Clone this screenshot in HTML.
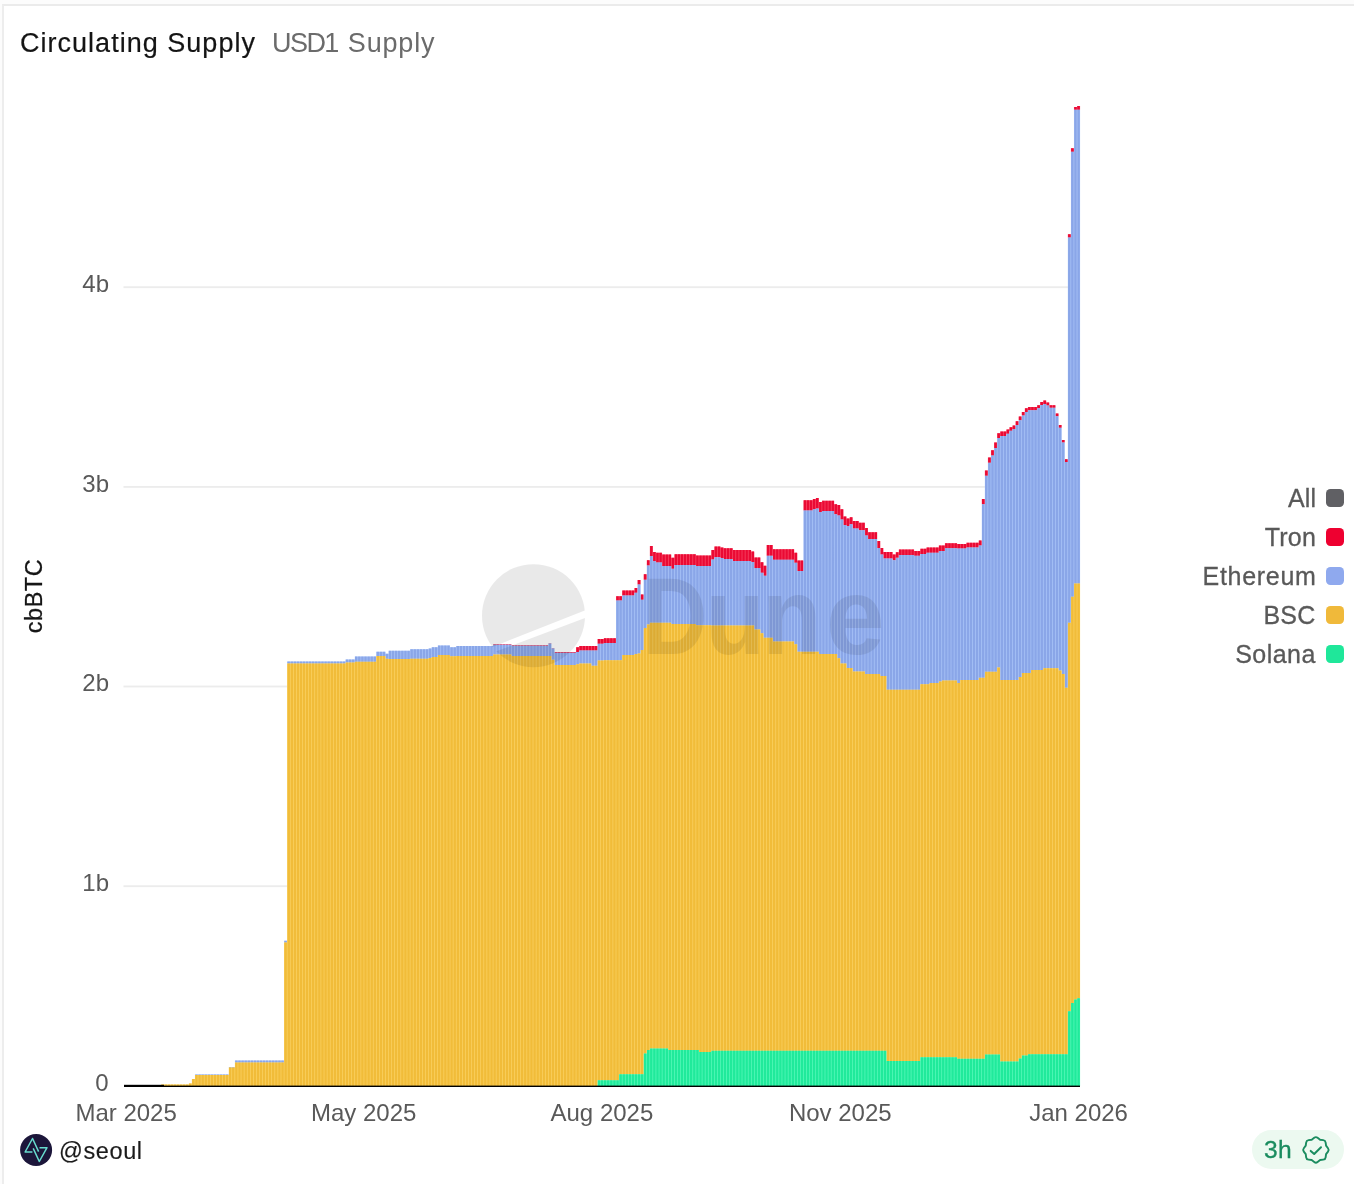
<!DOCTYPE html>
<html>
<head>
<meta charset="utf-8">
<title>Circulating Supply</title>
<style>
html,body{margin:0;padding:0;}
body{width:1354px;height:1184px;background:#fcfcfc;overflow:hidden;position:relative;font-family:"Liberation Sans",sans-serif;}
#card{position:absolute;left:2px;top:4px;width:1360px;height:1190px;background:#fff;border-left:2px solid #ededed;border-top:2px solid #ebebeb;box-sizing:border-box;}
.abs{position:absolute;white-space:nowrap;line-height:1;}
#t1{left:20px;top:29.7px;font-size:27px;color:#141414;letter-spacing:1.02px;-webkit-text-stroke:0.2px #141414;}
#t2{left:272px;top:29.5px;font-size:27px;color:#6b6b6b;letter-spacing:0px;}
svg{position:absolute;left:0;top:0;will-change:transform;}
.abs{will-change:transform;}
.ax{font-family:"Liberation Sans",sans-serif;font-size:24px;fill:#595959;}
.lg{font-family:"Liberation Sans",sans-serif;font-size:25px;fill:#595959;letter-spacing:0.2px;stroke:#595959;stroke-width:0.3px;}
#user{left:58.6px;top:1139.7px;font-size:23.5px;color:#1b1b1b;letter-spacing:0.6px;-webkit-text-stroke:0.15px #1b1b1b;}
#pill{position:absolute;left:1252px;top:1130px;width:92px;height:39px;border-radius:20px;background:#ecf9f0;}
#age{left:1263.8px;top:1138.3px;font-size:24.6px;color:#1a8c5f;-webkit-text-stroke:0.3px #1a8c5f;letter-spacing:0.3px;}
</style>
</head>
<body>
<div id="card"></div>
<div class="abs" id="t1">Circulating Supply</div>
<div class="abs" id="t2"><span style="letter-spacing:-1.55px">USD1</span><span style="letter-spacing:0.85px;margin-left:1.6px"> Supply</span></div>

<div id="pill"></div>
<svg width="1354" height="1184" viewBox="0 0 1354 1184">
  <!-- gridlines -->
  <g fill="#ececec">
    <rect x="123.5" y="286.3" width="956.5" height="1.8"/>
    <rect x="123.5" y="486.0" width="956.5" height="1.8"/>
    <rect x="123.5" y="685.6" width="956.5" height="1.8"/>
    <rect x="123.5" y="885.3" width="956.5" height="1.8"/>
  </g>
  <!-- bars -->
  <g shape-rendering="auto">
<path fill="#ff6a80" d="M493.06 644.3h3.07V644.7h-3.07zM496.13 644.3h3.07V644.7h-3.07zM499.21 644.3h3.07V644.7h-3.07zM502.28 644.3h3.07V644.7h-3.07zM505.36 644.3h3.07V644.7h-3.07zM508.43 644.3h3.07V644.7h-3.07zM511.50 645.3h3.07V645.7h-3.07zM514.58 645.3h3.07V645.7h-3.07zM517.65 645.3h3.07V645.7h-3.07zM520.72 645.3h3.07V645.7h-3.07zM523.80 645.3h3.07V645.7h-3.07zM526.87 645.3h3.07V645.7h-3.07zM529.94 645.3h3.07V645.7h-3.07zM533.02 645.3h3.07V645.7h-3.07zM536.09 645.3h3.07V645.7h-3.07zM539.16 645.3h3.07V645.7h-3.07zM542.24 645.3h3.07V645.7h-3.07zM545.31 645.3h3.07V645.7h-3.07zM548.38 643.2h3.07V643.6h-3.07zM551.46 648.2h3.07V648.6h-3.07zM554.53 652.0h3.07V652.7h-3.07zM557.60 652.0h3.07V652.7h-3.07zM560.68 652.0h3.07V652.7h-3.07zM563.75 652.0h3.07V652.7h-3.07zM566.83 652.0h3.07V652.7h-3.07zM569.90 652.0h3.07V652.7h-3.07zM572.97 652.0h3.07V652.7h-3.07zM576.05 647.2h3.07V651.9h-3.07zM579.12 646.0h3.07V650.6h-3.07zM582.19 646.0h3.07V650.6h-3.07zM585.27 646.0h3.07V650.6h-3.07zM588.34 646.0h3.07V650.6h-3.07zM591.41 646.0h3.07V650.6h-3.07zM594.49 646.0h3.07V650.6h-3.07zM597.56 639.1h3.07V643.8h-3.07zM600.63 639.1h3.07V643.8h-3.07zM603.71 638.2h3.07V643.0h-3.07zM606.78 638.2h3.07V643.0h-3.07zM609.85 638.2h3.07V643.0h-3.07zM612.93 638.2h3.07V643.0h-3.07zM616.00 596.2h3.07V600.4h-3.07zM619.07 596.2h3.07V600.4h-3.07zM622.15 590.5h3.07V595.6h-3.07zM625.22 590.5h3.07V595.6h-3.07zM628.30 590.5h3.07V595.6h-3.07zM631.37 590.5h3.07V595.6h-3.07zM634.44 587.9h3.07V592.7h-3.07zM637.52 579.9h3.07V584.6h-3.07zM640.59 594.4h3.07V599.8h-3.07zM643.66 574.3h3.07V579.7h-3.07zM646.74 560.2h3.07V565.5h-3.07zM649.81 546.0h3.07V556.0h-3.07zM652.88 551.9h3.07V561.3h-3.07zM655.96 552.7h3.07V562.5h-3.07zM659.03 552.7h3.07V562.5h-3.07zM662.10 554.6h3.07V566.1h-3.07zM665.18 554.6h3.07V566.1h-3.07zM668.25 554.6h3.07V566.1h-3.07zM671.32 557.8h3.07V568.8h-3.07zM674.40 554.2h3.07V564.9h-3.07zM677.47 554.2h3.07V564.9h-3.07zM680.54 554.2h3.07V564.9h-3.07zM683.62 554.2h3.07V564.9h-3.07zM686.69 554.2h3.07V564.9h-3.07zM689.77 554.2h3.07V564.9h-3.07zM692.84 554.2h3.07V564.9h-3.07zM695.91 555.4h3.07V566.1h-3.07zM698.99 555.4h3.07V566.1h-3.07zM702.06 555.4h3.07V566.1h-3.07zM705.13 555.4h3.07V566.1h-3.07zM708.21 555.4h3.07V566.1h-3.07zM711.28 549.9h3.07V559.6h-3.07zM714.35 546.6h3.07V557.2h-3.07zM717.43 546.6h3.07V557.2h-3.07zM720.50 547.5h3.07V558.1h-3.07zM723.57 548.3h3.07V559.0h-3.07zM726.65 548.3h3.07V559.0h-3.07zM729.72 548.3h3.07V559.0h-3.07zM732.79 550.1h3.07V561.0h-3.07zM735.87 550.1h3.07V561.0h-3.07zM738.94 550.1h3.07V561.0h-3.07zM742.01 550.1h3.07V561.0h-3.07zM745.09 550.1h3.07V561.0h-3.07zM748.16 550.1h3.07V561.0h-3.07zM751.24 551.5h3.07V561.9h-3.07zM754.31 557.4h3.07V568.0h-3.07zM757.38 557.4h3.07V568.0h-3.07zM760.46 562.2h3.07V572.8h-3.07zM763.53 565.7h3.07V575.8h-3.07zM766.60 545.0h3.07V555.7h-3.07zM769.68 545.0h3.07V555.7h-3.07zM772.75 549.2h3.07V559.8h-3.07zM775.82 549.2h3.07V559.8h-3.07zM778.90 549.2h3.07V559.8h-3.07zM781.97 549.2h3.07V559.8h-3.07zM785.04 549.2h3.07V559.8h-3.07zM788.12 549.2h3.07V559.8h-3.07zM791.19 549.2h3.07V559.8h-3.07zM794.26 552.7h3.07V562.8h-3.07zM797.34 560.6h3.07V571.0h-3.07zM800.41 560.6h3.07V571.0h-3.07zM803.48 500.3h3.07V510.5h-3.07zM806.56 500.3h3.07V510.5h-3.07zM809.63 500.3h3.07V510.5h-3.07zM812.71 498.9h3.07V509.3h-3.07zM815.78 498.0h3.07V508.4h-3.07zM818.85 501.9h3.07V511.9h-3.07zM821.93 500.7h3.07V511.0h-3.07zM825.00 500.7h3.07V511.0h-3.07zM828.07 500.7h3.07V511.0h-3.07zM831.15 500.7h3.07V511.0h-3.07zM834.22 504.2h3.07V514.3h-3.07zM837.29 505.1h3.07V515.5h-3.07zM840.37 509.3h3.07V519.6h-3.07zM843.44 516.4h3.07V524.9h-3.07zM846.51 518.4h3.07V525.9h-3.07zM849.59 517.2h3.07V524.3h-3.07zM852.66 521.1h3.07V528.5h-3.07zM855.73 521.1h3.07V528.5h-3.07zM858.81 522.8h3.07V530.3h-3.07zM861.88 522.8h3.07V530.3h-3.07zM864.95 527.9h3.07V535.6h-3.07zM868.03 532.3h3.07V539.1h-3.07zM871.10 532.3h3.07V539.1h-3.07zM874.18 532.3h3.07V539.1h-3.07zM877.25 540.9h3.07V548.0h-3.07zM880.32 548.0h3.07V554.5h-3.07zM883.40 551.9h3.07V558.4h-3.07zM886.47 551.9h3.07V558.4h-3.07zM889.54 551.9h3.07V558.4h-3.07zM892.62 554.5h3.07V560.3h-3.07zM895.69 552.3h3.07V557.8h-3.07zM898.76 549.5h3.07V554.9h-3.07zM901.84 549.5h3.07V554.9h-3.07zM904.91 549.5h3.07V554.9h-3.07zM907.98 549.5h3.07V554.9h-3.07zM911.06 549.5h3.07V554.9h-3.07zM914.13 550.9h3.07V555.7h-3.07zM917.20 550.9h3.07V555.7h-3.07zM920.28 548.8h3.07V553.9h-3.07zM923.35 548.8h3.07V553.9h-3.07zM926.42 547.6h3.07V552.7h-3.07zM929.50 547.6h3.07V552.7h-3.07zM932.57 547.6h3.07V552.7h-3.07zM935.65 547.6h3.07V552.7h-3.07zM938.72 545.6h3.07V550.9h-3.07zM941.79 545.6h3.07V550.9h-3.07zM944.87 543.3h3.07V548.3h-3.07zM947.94 543.3h3.07V548.3h-3.07zM951.01 543.3h3.07V548.3h-3.07zM954.09 543.3h3.07V548.3h-3.07zM957.16 543.9h3.07V548.6h-3.07zM960.23 543.9h3.07V548.6h-3.07zM963.31 543.9h3.07V548.6h-3.07zM966.38 542.7h3.07V547.4h-3.07zM969.45 542.7h3.07V547.4h-3.07zM972.53 542.7h3.07V547.4h-3.07zM975.60 542.7h3.07V547.4h-3.07zM978.67 540.5h3.07V545.6h-3.07zM981.75 498.9h3.07V504.2h-3.07zM984.82 470.4h3.07V475.7h-3.07zM987.89 457.4h3.07V462.7h-3.07zM990.97 450.3h3.07V455.6h-3.07zM994.04 442.6h3.07V447.9h-3.07zM997.12 433.2h3.07V437.9h-3.07zM1000.19 431.4h3.07V435.9h-3.07zM1003.26 431.4h3.07V435.9h-3.07zM1006.34 429.6h3.07V433.8h-3.07zM1009.41 427.2h3.07V430.8h-3.07zM1012.48 425.5h3.07V429.0h-3.07zM1015.56 421.3h3.07V424.9h-3.07zM1018.63 416.6h3.07V420.2h-3.07zM1021.70 411.9h3.07V415.4h-3.07zM1024.78 408.3h3.07V411.9h-3.07zM1027.85 407.1h3.07V410.3h-3.07zM1030.92 407.1h3.07V410.3h-3.07zM1034.00 407.1h3.07V410.3h-3.07zM1037.07 405.3h3.07V408.3h-3.07zM1040.14 402.1h3.07V405.0h-3.07zM1043.22 400.6h3.07V403.9h-3.07zM1046.29 402.4h3.07V405.4h-3.07zM1049.36 405.3h3.07V407.7h-3.07zM1052.44 405.3h3.07V407.7h-3.07zM1055.51 413.4h3.07V416.3h-3.07zM1058.59 424.9h3.07V427.8h-3.07zM1061.66 440.0h3.07V442.6h-3.07zM1064.73 459.2h3.07V462.0h-3.07zM1067.81 234.3h3.07V237.5h-3.07zM1070.88 148.2h3.07V151.8h-3.07zM1073.95 106.9h3.07V109.8h-3.07zM1077.03 106.0h3.07V109.8h-3.07z"/>
<path fill="#b8d2ff" d="M194.93 1074.5h3.07V1075.0h-3.07zM198.01 1074.5h3.07V1075.0h-3.07zM201.08 1074.5h3.07V1075.0h-3.07zM204.15 1074.5h3.07V1075.0h-3.07zM207.23 1074.5h3.07V1075.0h-3.07zM210.30 1074.5h3.07V1075.0h-3.07zM213.37 1074.5h3.07V1075.0h-3.07zM216.45 1074.5h3.07V1075.0h-3.07zM219.52 1074.5h3.07V1075.0h-3.07zM222.59 1074.5h3.07V1075.0h-3.07zM225.67 1074.5h3.07V1075.0h-3.07zM228.74 1067.0h3.07V1067.6h-3.07zM231.81 1067.0h3.07V1067.6h-3.07zM234.89 1060.5h3.07V1062.5h-3.07zM237.96 1060.5h3.07V1062.5h-3.07zM241.03 1060.5h3.07V1062.5h-3.07zM244.11 1060.5h3.07V1062.5h-3.07zM247.18 1060.5h3.07V1062.5h-3.07zM250.25 1060.5h3.07V1062.5h-3.07zM253.33 1060.5h3.07V1062.5h-3.07zM256.40 1060.5h3.07V1062.5h-3.07zM259.48 1060.5h3.07V1062.5h-3.07zM262.55 1060.5h3.07V1062.5h-3.07zM265.62 1060.5h3.07V1062.5h-3.07zM268.70 1060.5h3.07V1062.5h-3.07zM271.77 1060.5h3.07V1062.5h-3.07zM274.84 1060.5h3.07V1062.5h-3.07zM277.92 1060.5h3.07V1062.5h-3.07zM280.99 1060.5h3.07V1062.5h-3.07zM284.06 940.8h3.07V942.6h-3.07zM287.14 661.4h3.07V663.6h-3.07zM290.21 661.4h3.07V663.6h-3.07zM293.28 661.4h3.07V663.6h-3.07zM296.36 661.4h3.07V663.6h-3.07zM299.43 661.4h3.07V663.6h-3.07zM302.50 661.4h3.07V663.6h-3.07zM305.58 661.4h3.07V663.6h-3.07zM308.65 661.4h3.07V663.6h-3.07zM311.72 661.4h3.07V663.6h-3.07zM314.80 661.4h3.07V663.6h-3.07zM317.87 661.4h3.07V663.6h-3.07zM320.95 661.4h3.07V663.6h-3.07zM324.02 661.4h3.07V663.6h-3.07zM327.09 661.4h3.07V663.6h-3.07zM330.17 661.4h3.07V663.6h-3.07zM333.24 661.4h3.07V663.6h-3.07zM336.31 661.4h3.07V663.6h-3.07zM339.39 661.4h3.07V663.6h-3.07zM342.46 661.4h3.07V663.6h-3.07zM345.53 659.6h3.07V662.5h-3.07zM348.61 659.6h3.07V662.5h-3.07zM351.68 659.6h3.07V662.5h-3.07zM354.75 656.6h3.07V661.8h-3.07zM357.83 656.6h3.07V661.8h-3.07zM360.90 656.6h3.07V661.8h-3.07zM363.97 656.6h3.07V661.8h-3.07zM367.05 656.6h3.07V661.8h-3.07zM370.12 656.6h3.07V661.8h-3.07zM373.19 656.6h3.07V661.8h-3.07zM376.27 651.8h3.07V655.9h-3.07zM379.34 651.8h3.07V655.9h-3.07zM382.42 651.8h3.07V655.9h-3.07zM385.49 653.7h3.07V658.7h-3.07zM388.56 650.7h3.07V659.1h-3.07zM391.64 650.7h3.07V659.1h-3.07zM394.71 650.7h3.07V659.1h-3.07zM397.78 650.7h3.07V659.1h-3.07zM400.86 650.7h3.07V659.1h-3.07zM403.93 650.7h3.07V659.1h-3.07zM407.00 650.7h3.07V659.1h-3.07zM410.08 649.2h3.07V658.7h-3.07zM413.15 649.2h3.07V658.7h-3.07zM416.22 649.2h3.07V658.7h-3.07zM419.30 649.2h3.07V658.7h-3.07zM422.37 649.2h3.07V658.7h-3.07zM425.44 649.2h3.07V658.7h-3.07zM428.52 648.4h3.07V658.0h-3.07zM431.59 647.3h3.07V656.9h-3.07zM434.66 647.3h3.07V656.9h-3.07zM437.74 645.4h3.07V655.0h-3.07zM440.81 645.4h3.07V655.0h-3.07zM443.89 645.4h3.07V655.0h-3.07zM446.96 645.4h3.07V655.0h-3.07zM450.03 647.3h3.07V656.2h-3.07zM453.11 647.3h3.07V656.2h-3.07zM456.18 646.0h3.07V656.0h-3.07zM459.25 646.0h3.07V656.0h-3.07zM462.33 646.0h3.07V656.0h-3.07zM465.40 646.0h3.07V656.0h-3.07zM468.47 646.0h3.07V656.0h-3.07zM471.55 646.0h3.07V656.0h-3.07zM474.62 646.0h3.07V656.0h-3.07zM477.69 646.0h3.07V656.0h-3.07zM480.77 646.0h3.07V656.0h-3.07zM483.84 646.0h3.07V656.0h-3.07zM486.91 646.0h3.07V656.0h-3.07zM489.99 646.0h3.07V656.0h-3.07zM493.06 644.7h3.07V654.6h-3.07zM496.13 644.7h3.07V654.6h-3.07zM499.21 644.7h3.07V654.6h-3.07zM502.28 644.7h3.07V654.6h-3.07zM505.36 644.7h3.07V654.6h-3.07zM508.43 644.7h3.07V654.6h-3.07zM511.50 645.7h3.07V656.1h-3.07zM514.58 645.7h3.07V656.1h-3.07zM517.65 645.7h3.07V656.1h-3.07zM520.72 645.7h3.07V656.1h-3.07zM523.80 645.7h3.07V656.1h-3.07zM526.87 645.7h3.07V656.1h-3.07zM529.94 645.7h3.07V656.1h-3.07zM533.02 645.7h3.07V656.1h-3.07zM536.09 645.7h3.07V656.1h-3.07zM539.16 645.7h3.07V656.1h-3.07zM542.24 645.7h3.07V656.1h-3.07zM545.31 645.7h3.07V656.1h-3.07zM548.38 643.6h3.07V656.1h-3.07zM551.46 648.6h3.07V659.8h-3.07zM554.53 652.7h3.07V664.9h-3.07zM557.60 652.7h3.07V664.9h-3.07zM560.68 652.7h3.07V664.9h-3.07zM563.75 652.7h3.07V664.9h-3.07zM566.83 652.7h3.07V664.9h-3.07zM569.90 652.7h3.07V664.9h-3.07zM572.97 652.7h3.07V664.9h-3.07zM576.05 651.9h3.07V664.2h-3.07zM579.12 650.6h3.07V663.5h-3.07zM582.19 650.6h3.07V663.5h-3.07zM585.27 650.6h3.07V663.5h-3.07zM588.34 650.6h3.07V663.5h-3.07zM591.41 650.6h3.07V665.7h-3.07zM594.49 650.6h3.07V665.7h-3.07zM597.56 643.8h3.07V660.5h-3.07zM600.63 643.8h3.07V660.5h-3.07zM603.71 643.0h3.07V660.2h-3.07zM606.78 643.0h3.07V660.2h-3.07zM609.85 643.0h3.07V660.2h-3.07zM612.93 643.0h3.07V660.2h-3.07zM616.00 600.4h3.07V660.2h-3.07zM619.07 600.4h3.07V660.2h-3.07zM622.15 595.6h3.07V655.0h-3.07zM625.22 595.6h3.07V655.0h-3.07zM628.30 595.6h3.07V655.0h-3.07zM631.37 595.6h3.07V655.0h-3.07zM634.44 592.7h3.07V654.0h-3.07zM637.52 584.6h3.07V653.6h-3.07zM640.59 599.8h3.07V650.0h-3.07zM643.66 579.7h3.07V628.1h-3.07zM646.74 565.5h3.07V624.6h-3.07zM649.81 556.0h3.07V622.8h-3.07zM652.88 561.3h3.07V622.8h-3.07zM655.96 562.5h3.07V622.8h-3.07zM659.03 562.5h3.07V622.8h-3.07zM662.10 566.1h3.07V622.8h-3.07zM665.18 566.1h3.07V622.8h-3.07zM668.25 566.1h3.07V622.8h-3.07zM671.32 568.8h3.07V624.0h-3.07zM674.40 564.9h3.07V624.0h-3.07zM677.47 564.9h3.07V624.0h-3.07zM680.54 564.9h3.07V624.0h-3.07zM683.62 564.9h3.07V624.0h-3.07zM686.69 564.9h3.07V624.0h-3.07zM689.77 564.9h3.07V624.0h-3.07zM692.84 564.9h3.07V624.0h-3.07zM695.91 566.1h3.07V625.2h-3.07zM698.99 566.1h3.07V625.2h-3.07zM702.06 566.1h3.07V625.2h-3.07zM705.13 566.1h3.07V625.2h-3.07zM708.21 566.1h3.07V625.2h-3.07zM711.28 559.6h3.07V625.5h-3.07zM714.35 557.2h3.07V625.5h-3.07zM717.43 557.2h3.07V625.5h-3.07zM720.50 558.1h3.07V625.5h-3.07zM723.57 559.0h3.07V625.5h-3.07zM726.65 559.0h3.07V625.5h-3.07zM729.72 559.0h3.07V625.5h-3.07zM732.79 561.0h3.07V625.5h-3.07zM735.87 561.0h3.07V625.5h-3.07zM738.94 561.0h3.07V625.5h-3.07zM742.01 561.0h3.07V625.5h-3.07zM745.09 561.0h3.07V625.5h-3.07zM748.16 561.0h3.07V625.5h-3.07zM751.24 561.9h3.07V625.5h-3.07zM754.31 568.0h3.07V629.5h-3.07zM757.38 568.0h3.07V629.5h-3.07zM760.46 572.8h3.07V633.2h-3.07zM763.53 575.8h3.07V637.7h-3.07zM766.60 555.7h3.07V637.7h-3.07zM769.68 555.7h3.07V637.7h-3.07zM772.75 559.8h3.07V641.4h-3.07zM775.82 559.8h3.07V641.4h-3.07zM778.90 559.8h3.07V641.4h-3.07zM781.97 559.8h3.07V641.4h-3.07zM785.04 559.8h3.07V641.4h-3.07zM788.12 559.8h3.07V641.4h-3.07zM791.19 559.8h3.07V641.4h-3.07zM794.26 562.8h3.07V644.3h-3.07zM797.34 571.0h3.07V651.7h-3.07zM800.41 571.0h3.07V651.7h-3.07zM803.48 510.5h3.07V651.7h-3.07zM806.56 510.5h3.07V651.7h-3.07zM809.63 510.5h3.07V651.7h-3.07zM812.71 509.3h3.07V651.7h-3.07zM815.78 508.4h3.07V651.7h-3.07zM818.85 511.9h3.07V653.9h-3.07zM821.93 511.0h3.07V653.9h-3.07zM825.00 511.0h3.07V653.9h-3.07zM828.07 511.0h3.07V653.9h-3.07zM831.15 511.0h3.07V653.9h-3.07zM834.22 514.3h3.07V653.9h-3.07zM837.29 515.5h3.07V658.3h-3.07zM840.37 519.6h3.07V663.5h-3.07zM843.44 524.9h3.07V663.5h-3.07zM846.51 525.9h3.07V667.9h-3.07zM849.59 524.3h3.07V667.9h-3.07zM852.66 528.5h3.07V671.6h-3.07zM855.73 528.5h3.07V671.6h-3.07zM858.81 530.3h3.07V671.6h-3.07zM861.88 530.3h3.07V671.6h-3.07zM864.95 535.6h3.07V673.9h-3.07zM868.03 539.1h3.07V673.9h-3.07zM871.10 539.1h3.07V673.9h-3.07zM874.18 539.1h3.07V673.9h-3.07zM877.25 548.0h3.07V673.9h-3.07zM880.32 554.5h3.07V676.1h-3.07zM883.40 558.4h3.07V676.1h-3.07zM886.47 558.4h3.07V689.8h-3.07zM889.54 558.4h3.07V689.8h-3.07zM892.62 560.3h3.07V689.8h-3.07zM895.69 557.8h3.07V689.8h-3.07zM898.76 554.9h3.07V689.8h-3.07zM901.84 554.9h3.07V689.8h-3.07zM904.91 554.9h3.07V689.8h-3.07zM907.98 554.9h3.07V689.8h-3.07zM911.06 554.9h3.07V689.8h-3.07zM914.13 555.7h3.07V689.8h-3.07zM917.20 555.7h3.07V689.8h-3.07zM920.28 553.9h3.07V684.2h-3.07zM923.35 553.9h3.07V684.2h-3.07zM926.42 552.7h3.07V684.2h-3.07zM929.50 552.7h3.07V683.0h-3.07zM932.57 552.7h3.07V683.0h-3.07zM935.65 552.7h3.07V683.0h-3.07zM938.72 550.9h3.07V681.5h-3.07zM941.79 550.9h3.07V680.6h-3.07zM944.87 548.3h3.07V680.6h-3.07zM947.94 548.3h3.07V680.6h-3.07zM951.01 548.3h3.07V680.6h-3.07zM954.09 548.3h3.07V680.6h-3.07zM957.16 548.6h3.07V683.0h-3.07zM960.23 548.6h3.07V680.0h-3.07zM963.31 548.6h3.07V680.0h-3.07zM966.38 547.4h3.07V680.0h-3.07zM969.45 547.4h3.07V680.0h-3.07zM972.53 547.4h3.07V680.0h-3.07zM975.60 547.4h3.07V680.0h-3.07zM978.67 545.6h3.07V677.7h-3.07zM981.75 504.2h3.07V677.7h-3.07zM984.82 475.7h3.07V671.7h-3.07zM987.89 462.7h3.07V671.7h-3.07zM990.97 455.6h3.07V671.7h-3.07zM994.04 447.9h3.07V671.7h-3.07zM997.12 437.9h3.07V667.6h-3.07zM1000.19 435.9h3.07V680.0h-3.07zM1003.26 435.9h3.07V680.0h-3.07zM1006.34 433.8h3.07V680.0h-3.07zM1009.41 430.8h3.07V680.0h-3.07zM1012.48 429.0h3.07V680.0h-3.07zM1015.56 424.9h3.07V680.0h-3.07zM1018.63 420.2h3.07V677.0h-3.07zM1021.70 415.4h3.07V672.9h-3.07zM1024.78 411.9h3.07V672.9h-3.07zM1027.85 410.3h3.07V672.9h-3.07zM1030.92 410.3h3.07V670.0h-3.07zM1034.00 410.3h3.07V670.0h-3.07zM1037.07 408.3h3.07V670.0h-3.07zM1040.14 405.0h3.07V670.0h-3.07zM1043.22 403.9h3.07V668.2h-3.07zM1046.29 405.4h3.07V668.2h-3.07zM1049.36 407.7h3.07V668.2h-3.07zM1052.44 407.7h3.07V668.2h-3.07zM1055.51 416.3h3.07V668.2h-3.07zM1058.59 427.8h3.07V670.6h-3.07zM1061.66 442.6h3.07V674.1h-3.07zM1064.73 462.0h3.07V687.7h-3.07zM1067.81 237.5h3.07V622.7h-3.07zM1070.88 151.8h3.07V596.7h-3.07zM1073.95 109.8h3.07V583.6h-3.07zM1077.03 109.8h3.07V583.6h-3.07z"/>
<path fill="#ffdb76" d="M161.12 1084.6h3.07V1086.0h-3.07zM164.20 1084.6h3.07V1086.0h-3.07zM167.27 1084.6h3.07V1086.0h-3.07zM170.34 1084.6h3.07V1086.0h-3.07zM173.42 1084.6h3.07V1086.0h-3.07zM176.49 1084.6h3.07V1086.0h-3.07zM179.56 1084.6h3.07V1086.0h-3.07zM182.64 1084.6h3.07V1086.0h-3.07zM185.71 1084.6h3.07V1086.0h-3.07zM188.78 1083.5h3.07V1086.0h-3.07zM191.86 1079.0h3.07V1086.0h-3.07zM194.93 1075.0h3.07V1086.0h-3.07zM198.01 1075.0h3.07V1086.0h-3.07zM201.08 1075.0h3.07V1086.0h-3.07zM204.15 1075.0h3.07V1086.0h-3.07zM207.23 1075.0h3.07V1086.0h-3.07zM210.30 1075.0h3.07V1086.0h-3.07zM213.37 1075.0h3.07V1086.0h-3.07zM216.45 1075.0h3.07V1086.0h-3.07zM219.52 1075.0h3.07V1086.0h-3.07zM222.59 1075.0h3.07V1086.0h-3.07zM225.67 1075.0h3.07V1086.0h-3.07zM228.74 1067.6h3.07V1086.0h-3.07zM231.81 1067.6h3.07V1086.0h-3.07zM234.89 1062.5h3.07V1086.0h-3.07zM237.96 1062.5h3.07V1086.0h-3.07zM241.03 1062.5h3.07V1086.0h-3.07zM244.11 1062.5h3.07V1086.0h-3.07zM247.18 1062.5h3.07V1086.0h-3.07zM250.25 1062.5h3.07V1086.0h-3.07zM253.33 1062.5h3.07V1086.0h-3.07zM256.40 1062.5h3.07V1086.0h-3.07zM259.48 1062.5h3.07V1086.0h-3.07zM262.55 1062.5h3.07V1086.0h-3.07zM265.62 1062.5h3.07V1086.0h-3.07zM268.70 1062.5h3.07V1086.0h-3.07zM271.77 1062.5h3.07V1086.0h-3.07zM274.84 1062.5h3.07V1086.0h-3.07zM277.92 1062.5h3.07V1086.0h-3.07zM280.99 1062.5h3.07V1086.0h-3.07zM284.06 942.6h3.07V1086.0h-3.07zM287.14 663.6h3.07V1086.0h-3.07zM290.21 663.6h3.07V1086.0h-3.07zM293.28 663.6h3.07V1086.0h-3.07zM296.36 663.6h3.07V1086.0h-3.07zM299.43 663.6h3.07V1086.0h-3.07zM302.50 663.6h3.07V1086.0h-3.07zM305.58 663.6h3.07V1086.0h-3.07zM308.65 663.6h3.07V1086.0h-3.07zM311.72 663.6h3.07V1086.0h-3.07zM314.80 663.6h3.07V1086.0h-3.07zM317.87 663.6h3.07V1086.0h-3.07zM320.95 663.6h3.07V1086.0h-3.07zM324.02 663.6h3.07V1086.0h-3.07zM327.09 663.6h3.07V1086.0h-3.07zM330.17 663.6h3.07V1086.0h-3.07zM333.24 663.6h3.07V1086.0h-3.07zM336.31 663.6h3.07V1086.0h-3.07zM339.39 663.6h3.07V1086.0h-3.07zM342.46 663.6h3.07V1086.0h-3.07zM345.53 662.5h3.07V1086.0h-3.07zM348.61 662.5h3.07V1086.0h-3.07zM351.68 662.5h3.07V1086.0h-3.07zM354.75 661.8h3.07V1086.0h-3.07zM357.83 661.8h3.07V1086.0h-3.07zM360.90 661.8h3.07V1086.0h-3.07zM363.97 661.8h3.07V1086.0h-3.07zM367.05 661.8h3.07V1086.0h-3.07zM370.12 661.8h3.07V1086.0h-3.07zM373.19 661.8h3.07V1086.0h-3.07zM376.27 655.9h3.07V1086.0h-3.07zM379.34 655.9h3.07V1086.0h-3.07zM382.42 655.9h3.07V1086.0h-3.07zM385.49 658.7h3.07V1086.0h-3.07zM388.56 659.1h3.07V1086.0h-3.07zM391.64 659.1h3.07V1086.0h-3.07zM394.71 659.1h3.07V1086.0h-3.07zM397.78 659.1h3.07V1086.0h-3.07zM400.86 659.1h3.07V1086.0h-3.07zM403.93 659.1h3.07V1086.0h-3.07zM407.00 659.1h3.07V1086.0h-3.07zM410.08 658.7h3.07V1086.0h-3.07zM413.15 658.7h3.07V1086.0h-3.07zM416.22 658.7h3.07V1086.0h-3.07zM419.30 658.7h3.07V1086.0h-3.07zM422.37 658.7h3.07V1086.0h-3.07zM425.44 658.7h3.07V1086.0h-3.07zM428.52 658.0h3.07V1086.0h-3.07zM431.59 656.9h3.07V1086.0h-3.07zM434.66 656.9h3.07V1086.0h-3.07zM437.74 655.0h3.07V1086.0h-3.07zM440.81 655.0h3.07V1086.0h-3.07zM443.89 655.0h3.07V1086.0h-3.07zM446.96 655.0h3.07V1086.0h-3.07zM450.03 656.2h3.07V1086.0h-3.07zM453.11 656.2h3.07V1086.0h-3.07zM456.18 656.0h3.07V1086.0h-3.07zM459.25 656.0h3.07V1086.0h-3.07zM462.33 656.0h3.07V1086.0h-3.07zM465.40 656.0h3.07V1086.0h-3.07zM468.47 656.0h3.07V1086.0h-3.07zM471.55 656.0h3.07V1086.0h-3.07zM474.62 656.0h3.07V1086.0h-3.07zM477.69 656.0h3.07V1086.0h-3.07zM480.77 656.0h3.07V1086.0h-3.07zM483.84 656.0h3.07V1086.0h-3.07zM486.91 656.0h3.07V1086.0h-3.07zM489.99 656.0h3.07V1086.0h-3.07zM493.06 654.6h3.07V1086.0h-3.07zM496.13 654.6h3.07V1086.0h-3.07zM499.21 654.6h3.07V1086.0h-3.07zM502.28 654.6h3.07V1086.0h-3.07zM505.36 654.6h3.07V1086.0h-3.07zM508.43 654.6h3.07V1086.0h-3.07zM511.50 656.1h3.07V1086.0h-3.07zM514.58 656.1h3.07V1086.0h-3.07zM517.65 656.1h3.07V1086.0h-3.07zM520.72 656.1h3.07V1086.0h-3.07zM523.80 656.1h3.07V1086.0h-3.07zM526.87 656.1h3.07V1086.0h-3.07zM529.94 656.1h3.07V1086.0h-3.07zM533.02 656.1h3.07V1086.0h-3.07zM536.09 656.1h3.07V1086.0h-3.07zM539.16 656.1h3.07V1086.0h-3.07zM542.24 656.1h3.07V1086.0h-3.07zM545.31 656.1h3.07V1086.0h-3.07zM548.38 656.1h3.07V1086.0h-3.07zM551.46 659.8h3.07V1086.0h-3.07zM554.53 664.9h3.07V1086.0h-3.07zM557.60 664.9h3.07V1086.0h-3.07zM560.68 664.9h3.07V1086.0h-3.07zM563.75 664.9h3.07V1086.0h-3.07zM566.83 664.9h3.07V1086.0h-3.07zM569.90 664.9h3.07V1086.0h-3.07zM572.97 664.9h3.07V1086.0h-3.07zM576.05 664.2h3.07V1086.0h-3.07zM579.12 663.5h3.07V1086.0h-3.07zM582.19 663.5h3.07V1086.0h-3.07zM585.27 663.5h3.07V1086.0h-3.07zM588.34 663.5h3.07V1086.0h-3.07zM591.41 665.7h3.07V1086.0h-3.07zM594.49 665.7h3.07V1086.0h-3.07zM597.56 660.5h3.07V1080.2h-3.07zM600.63 660.5h3.07V1080.2h-3.07zM603.71 660.2h3.07V1080.2h-3.07zM606.78 660.2h3.07V1080.2h-3.07zM609.85 660.2h3.07V1080.2h-3.07zM612.93 660.2h3.07V1080.2h-3.07zM616.00 660.2h3.07V1080.2h-3.07zM619.07 660.2h3.07V1074.3h-3.07zM622.15 655.0h3.07V1074.3h-3.07zM625.22 655.0h3.07V1074.3h-3.07zM628.30 655.0h3.07V1074.3h-3.07zM631.37 655.0h3.07V1074.3h-3.07zM634.44 654.0h3.07V1074.3h-3.07zM637.52 653.6h3.07V1074.3h-3.07zM640.59 650.0h3.07V1074.3h-3.07zM643.66 628.1h3.07V1053.6h-3.07zM646.74 624.6h3.07V1049.9h-3.07zM649.81 622.8h3.07V1048.5h-3.07zM652.88 622.8h3.07V1048.5h-3.07zM655.96 622.8h3.07V1048.5h-3.07zM659.03 622.8h3.07V1048.5h-3.07zM662.10 622.8h3.07V1048.5h-3.07zM665.18 622.8h3.07V1048.5h-3.07zM668.25 622.8h3.07V1049.9h-3.07zM671.32 624.0h3.07V1049.9h-3.07zM674.40 624.0h3.07V1049.9h-3.07zM677.47 624.0h3.07V1049.9h-3.07zM680.54 624.0h3.07V1049.9h-3.07zM683.62 624.0h3.07V1049.9h-3.07zM686.69 624.0h3.07V1049.9h-3.07zM689.77 624.0h3.07V1049.9h-3.07zM692.84 624.0h3.07V1049.9h-3.07zM695.91 625.2h3.07V1049.9h-3.07zM698.99 625.2h3.07V1051.9h-3.07zM702.06 625.2h3.07V1051.9h-3.07zM705.13 625.2h3.07V1051.9h-3.07zM708.21 625.2h3.07V1051.9h-3.07zM711.28 625.5h3.07V1050.7h-3.07zM714.35 625.5h3.07V1050.7h-3.07zM717.43 625.5h3.07V1050.7h-3.07zM720.50 625.5h3.07V1050.7h-3.07zM723.57 625.5h3.07V1050.7h-3.07zM726.65 625.5h3.07V1050.7h-3.07zM729.72 625.5h3.07V1050.7h-3.07zM732.79 625.5h3.07V1050.7h-3.07zM735.87 625.5h3.07V1050.7h-3.07zM738.94 625.5h3.07V1050.7h-3.07zM742.01 625.5h3.07V1050.7h-3.07zM745.09 625.5h3.07V1050.7h-3.07zM748.16 625.5h3.07V1050.7h-3.07zM751.24 625.5h3.07V1050.7h-3.07zM754.31 629.5h3.07V1050.7h-3.07zM757.38 629.5h3.07V1050.7h-3.07zM760.46 633.2h3.07V1050.7h-3.07zM763.53 637.7h3.07V1050.7h-3.07zM766.60 637.7h3.07V1050.7h-3.07zM769.68 637.7h3.07V1050.7h-3.07zM772.75 641.4h3.07V1050.7h-3.07zM775.82 641.4h3.07V1050.7h-3.07zM778.90 641.4h3.07V1050.7h-3.07zM781.97 641.4h3.07V1050.7h-3.07zM785.04 641.4h3.07V1050.7h-3.07zM788.12 641.4h3.07V1050.7h-3.07zM791.19 641.4h3.07V1050.7h-3.07zM794.26 644.3h3.07V1050.7h-3.07zM797.34 651.7h3.07V1050.7h-3.07zM800.41 651.7h3.07V1050.7h-3.07zM803.48 651.7h3.07V1050.7h-3.07zM806.56 651.7h3.07V1050.7h-3.07zM809.63 651.7h3.07V1050.7h-3.07zM812.71 651.7h3.07V1050.7h-3.07zM815.78 651.7h3.07V1050.7h-3.07zM818.85 653.9h3.07V1050.7h-3.07zM821.93 653.9h3.07V1050.7h-3.07zM825.00 653.9h3.07V1050.7h-3.07zM828.07 653.9h3.07V1050.7h-3.07zM831.15 653.9h3.07V1050.7h-3.07zM834.22 653.9h3.07V1050.7h-3.07zM837.29 658.3h3.07V1050.7h-3.07zM840.37 663.5h3.07V1050.7h-3.07zM843.44 663.5h3.07V1050.7h-3.07zM846.51 667.9h3.07V1050.7h-3.07zM849.59 667.9h3.07V1050.7h-3.07zM852.66 671.6h3.07V1050.7h-3.07zM855.73 671.6h3.07V1050.7h-3.07zM858.81 671.6h3.07V1050.7h-3.07zM861.88 671.6h3.07V1050.7h-3.07zM864.95 673.9h3.07V1050.7h-3.07zM868.03 673.9h3.07V1050.7h-3.07zM871.10 673.9h3.07V1050.7h-3.07zM874.18 673.9h3.07V1050.7h-3.07zM877.25 673.9h3.07V1050.7h-3.07zM880.32 676.1h3.07V1050.7h-3.07zM883.40 676.1h3.07V1050.7h-3.07zM886.47 689.8h3.07V1061.0h-3.07zM889.54 689.8h3.07V1061.0h-3.07zM892.62 689.8h3.07V1061.0h-3.07zM895.69 689.8h3.07V1061.0h-3.07zM898.76 689.8h3.07V1061.0h-3.07zM901.84 689.8h3.07V1061.0h-3.07zM904.91 689.8h3.07V1061.0h-3.07zM907.98 689.8h3.07V1061.0h-3.07zM911.06 689.8h3.07V1061.0h-3.07zM914.13 689.8h3.07V1061.0h-3.07zM917.20 689.8h3.07V1061.0h-3.07zM920.28 684.2h3.07V1057.2h-3.07zM923.35 684.2h3.07V1057.2h-3.07zM926.42 684.2h3.07V1057.2h-3.07zM929.50 683.0h3.07V1057.2h-3.07zM932.57 683.0h3.07V1057.2h-3.07zM935.65 683.0h3.07V1057.2h-3.07zM938.72 681.5h3.07V1057.2h-3.07zM941.79 680.6h3.07V1057.2h-3.07zM944.87 680.6h3.07V1057.2h-3.07zM947.94 680.6h3.07V1057.2h-3.07zM951.01 680.6h3.07V1057.2h-3.07zM954.09 680.6h3.07V1057.2h-3.07zM957.16 683.0h3.07V1058.7h-3.07zM960.23 680.0h3.07V1058.7h-3.07zM963.31 680.0h3.07V1058.7h-3.07zM966.38 680.0h3.07V1058.7h-3.07zM969.45 680.0h3.07V1058.7h-3.07zM972.53 680.0h3.07V1058.7h-3.07zM975.60 680.0h3.07V1058.7h-3.07zM978.67 677.7h3.07V1058.7h-3.07zM981.75 677.7h3.07V1058.7h-3.07zM984.82 671.7h3.07V1054.4h-3.07zM987.89 671.7h3.07V1054.4h-3.07zM990.97 671.7h3.07V1054.4h-3.07zM994.04 671.7h3.07V1054.4h-3.07zM997.12 667.6h3.07V1054.4h-3.07zM1000.19 680.0h3.07V1061.5h-3.07zM1003.26 680.0h3.07V1061.5h-3.07zM1006.34 680.0h3.07V1061.5h-3.07zM1009.41 680.0h3.07V1061.5h-3.07zM1012.48 680.0h3.07V1061.5h-3.07zM1015.56 680.0h3.07V1061.5h-3.07zM1018.63 677.0h3.07V1058.6h-3.07zM1021.70 672.9h3.07V1055.6h-3.07zM1024.78 672.9h3.07V1055.6h-3.07zM1027.85 672.9h3.07V1054.2h-3.07zM1030.92 670.0h3.07V1054.2h-3.07zM1034.00 670.0h3.07V1054.2h-3.07zM1037.07 670.0h3.07V1054.2h-3.07zM1040.14 670.0h3.07V1054.2h-3.07zM1043.22 668.2h3.07V1054.2h-3.07zM1046.29 668.2h3.07V1054.2h-3.07zM1049.36 668.2h3.07V1054.2h-3.07zM1052.44 668.2h3.07V1054.2h-3.07zM1055.51 668.2h3.07V1054.2h-3.07zM1058.59 670.6h3.07V1054.2h-3.07zM1061.66 674.1h3.07V1054.2h-3.07zM1064.73 687.7h3.07V1054.2h-3.07zM1067.81 622.7h3.07V1011.3h-3.07zM1070.88 596.7h3.07V1003.0h-3.07zM1073.95 583.6h3.07V999.5h-3.07zM1077.03 583.6h3.07V998.3h-3.07z"/>
<path fill="#74ffca" d="M597.56 1080.2h3.07V1086.0h-3.07zM600.63 1080.2h3.07V1086.0h-3.07zM603.71 1080.2h3.07V1086.0h-3.07zM606.78 1080.2h3.07V1086.0h-3.07zM609.85 1080.2h3.07V1086.0h-3.07zM612.93 1080.2h3.07V1086.0h-3.07zM616.00 1080.2h3.07V1086.0h-3.07zM619.07 1074.3h3.07V1086.0h-3.07zM622.15 1074.3h3.07V1086.0h-3.07zM625.22 1074.3h3.07V1086.0h-3.07zM628.30 1074.3h3.07V1086.0h-3.07zM631.37 1074.3h3.07V1086.0h-3.07zM634.44 1074.3h3.07V1086.0h-3.07zM637.52 1074.3h3.07V1086.0h-3.07zM640.59 1074.3h3.07V1086.0h-3.07zM643.66 1053.6h3.07V1086.0h-3.07zM646.74 1049.9h3.07V1086.0h-3.07zM649.81 1048.5h3.07V1086.0h-3.07zM652.88 1048.5h3.07V1086.0h-3.07zM655.96 1048.5h3.07V1086.0h-3.07zM659.03 1048.5h3.07V1086.0h-3.07zM662.10 1048.5h3.07V1086.0h-3.07zM665.18 1048.5h3.07V1086.0h-3.07zM668.25 1049.9h3.07V1086.0h-3.07zM671.32 1049.9h3.07V1086.0h-3.07zM674.40 1049.9h3.07V1086.0h-3.07zM677.47 1049.9h3.07V1086.0h-3.07zM680.54 1049.9h3.07V1086.0h-3.07zM683.62 1049.9h3.07V1086.0h-3.07zM686.69 1049.9h3.07V1086.0h-3.07zM689.77 1049.9h3.07V1086.0h-3.07zM692.84 1049.9h3.07V1086.0h-3.07zM695.91 1049.9h3.07V1086.0h-3.07zM698.99 1051.9h3.07V1086.0h-3.07zM702.06 1051.9h3.07V1086.0h-3.07zM705.13 1051.9h3.07V1086.0h-3.07zM708.21 1051.9h3.07V1086.0h-3.07zM711.28 1050.7h3.07V1086.0h-3.07zM714.35 1050.7h3.07V1086.0h-3.07zM717.43 1050.7h3.07V1086.0h-3.07zM720.50 1050.7h3.07V1086.0h-3.07zM723.57 1050.7h3.07V1086.0h-3.07zM726.65 1050.7h3.07V1086.0h-3.07zM729.72 1050.7h3.07V1086.0h-3.07zM732.79 1050.7h3.07V1086.0h-3.07zM735.87 1050.7h3.07V1086.0h-3.07zM738.94 1050.7h3.07V1086.0h-3.07zM742.01 1050.7h3.07V1086.0h-3.07zM745.09 1050.7h3.07V1086.0h-3.07zM748.16 1050.7h3.07V1086.0h-3.07zM751.24 1050.7h3.07V1086.0h-3.07zM754.31 1050.7h3.07V1086.0h-3.07zM757.38 1050.7h3.07V1086.0h-3.07zM760.46 1050.7h3.07V1086.0h-3.07zM763.53 1050.7h3.07V1086.0h-3.07zM766.60 1050.7h3.07V1086.0h-3.07zM769.68 1050.7h3.07V1086.0h-3.07zM772.75 1050.7h3.07V1086.0h-3.07zM775.82 1050.7h3.07V1086.0h-3.07zM778.90 1050.7h3.07V1086.0h-3.07zM781.97 1050.7h3.07V1086.0h-3.07zM785.04 1050.7h3.07V1086.0h-3.07zM788.12 1050.7h3.07V1086.0h-3.07zM791.19 1050.7h3.07V1086.0h-3.07zM794.26 1050.7h3.07V1086.0h-3.07zM797.34 1050.7h3.07V1086.0h-3.07zM800.41 1050.7h3.07V1086.0h-3.07zM803.48 1050.7h3.07V1086.0h-3.07zM806.56 1050.7h3.07V1086.0h-3.07zM809.63 1050.7h3.07V1086.0h-3.07zM812.71 1050.7h3.07V1086.0h-3.07zM815.78 1050.7h3.07V1086.0h-3.07zM818.85 1050.7h3.07V1086.0h-3.07zM821.93 1050.7h3.07V1086.0h-3.07zM825.00 1050.7h3.07V1086.0h-3.07zM828.07 1050.7h3.07V1086.0h-3.07zM831.15 1050.7h3.07V1086.0h-3.07zM834.22 1050.7h3.07V1086.0h-3.07zM837.29 1050.7h3.07V1086.0h-3.07zM840.37 1050.7h3.07V1086.0h-3.07zM843.44 1050.7h3.07V1086.0h-3.07zM846.51 1050.7h3.07V1086.0h-3.07zM849.59 1050.7h3.07V1086.0h-3.07zM852.66 1050.7h3.07V1086.0h-3.07zM855.73 1050.7h3.07V1086.0h-3.07zM858.81 1050.7h3.07V1086.0h-3.07zM861.88 1050.7h3.07V1086.0h-3.07zM864.95 1050.7h3.07V1086.0h-3.07zM868.03 1050.7h3.07V1086.0h-3.07zM871.10 1050.7h3.07V1086.0h-3.07zM874.18 1050.7h3.07V1086.0h-3.07zM877.25 1050.7h3.07V1086.0h-3.07zM880.32 1050.7h3.07V1086.0h-3.07zM883.40 1050.7h3.07V1086.0h-3.07zM886.47 1061.0h3.07V1086.0h-3.07zM889.54 1061.0h3.07V1086.0h-3.07zM892.62 1061.0h3.07V1086.0h-3.07zM895.69 1061.0h3.07V1086.0h-3.07zM898.76 1061.0h3.07V1086.0h-3.07zM901.84 1061.0h3.07V1086.0h-3.07zM904.91 1061.0h3.07V1086.0h-3.07zM907.98 1061.0h3.07V1086.0h-3.07zM911.06 1061.0h3.07V1086.0h-3.07zM914.13 1061.0h3.07V1086.0h-3.07zM917.20 1061.0h3.07V1086.0h-3.07zM920.28 1057.2h3.07V1086.0h-3.07zM923.35 1057.2h3.07V1086.0h-3.07zM926.42 1057.2h3.07V1086.0h-3.07zM929.50 1057.2h3.07V1086.0h-3.07zM932.57 1057.2h3.07V1086.0h-3.07zM935.65 1057.2h3.07V1086.0h-3.07zM938.72 1057.2h3.07V1086.0h-3.07zM941.79 1057.2h3.07V1086.0h-3.07zM944.87 1057.2h3.07V1086.0h-3.07zM947.94 1057.2h3.07V1086.0h-3.07zM951.01 1057.2h3.07V1086.0h-3.07zM954.09 1057.2h3.07V1086.0h-3.07zM957.16 1058.7h3.07V1086.0h-3.07zM960.23 1058.7h3.07V1086.0h-3.07zM963.31 1058.7h3.07V1086.0h-3.07zM966.38 1058.7h3.07V1086.0h-3.07zM969.45 1058.7h3.07V1086.0h-3.07zM972.53 1058.7h3.07V1086.0h-3.07zM975.60 1058.7h3.07V1086.0h-3.07zM978.67 1058.7h3.07V1086.0h-3.07zM981.75 1058.7h3.07V1086.0h-3.07zM984.82 1054.4h3.07V1086.0h-3.07zM987.89 1054.4h3.07V1086.0h-3.07zM990.97 1054.4h3.07V1086.0h-3.07zM994.04 1054.4h3.07V1086.0h-3.07zM997.12 1054.4h3.07V1086.0h-3.07zM1000.19 1061.5h3.07V1086.0h-3.07zM1003.26 1061.5h3.07V1086.0h-3.07zM1006.34 1061.5h3.07V1086.0h-3.07zM1009.41 1061.5h3.07V1086.0h-3.07zM1012.48 1061.5h3.07V1086.0h-3.07zM1015.56 1061.5h3.07V1086.0h-3.07zM1018.63 1058.6h3.07V1086.0h-3.07zM1021.70 1055.6h3.07V1086.0h-3.07zM1024.78 1055.6h3.07V1086.0h-3.07zM1027.85 1054.2h3.07V1086.0h-3.07zM1030.92 1054.2h3.07V1086.0h-3.07zM1034.00 1054.2h3.07V1086.0h-3.07zM1037.07 1054.2h3.07V1086.0h-3.07zM1040.14 1054.2h3.07V1086.0h-3.07zM1043.22 1054.2h3.07V1086.0h-3.07zM1046.29 1054.2h3.07V1086.0h-3.07zM1049.36 1054.2h3.07V1086.0h-3.07zM1052.44 1054.2h3.07V1086.0h-3.07zM1055.51 1054.2h3.07V1086.0h-3.07zM1058.59 1054.2h3.07V1086.0h-3.07zM1061.66 1054.2h3.07V1086.0h-3.07zM1064.73 1054.2h3.07V1086.0h-3.07zM1067.81 1011.3h3.07V1086.0h-3.07zM1070.88 1003.0h3.07V1086.0h-3.07zM1073.95 999.5h3.07V1086.0h-3.07zM1077.03 998.3h3.07V1086.0h-3.07z"/>
<path fill="#ea0a34" d="M493.31 644.3h2.57V644.7h-2.57zM496.38 644.3h2.57V644.7h-2.57zM499.46 644.3h2.57V644.7h-2.57zM502.53 644.3h2.57V644.7h-2.57zM505.61 644.3h2.57V644.7h-2.57zM508.68 644.3h2.57V644.7h-2.57zM511.75 645.3h2.57V645.7h-2.57zM514.83 645.3h2.57V645.7h-2.57zM517.90 645.3h2.57V645.7h-2.57zM520.97 645.3h2.57V645.7h-2.57zM524.05 645.3h2.57V645.7h-2.57zM527.12 645.3h2.57V645.7h-2.57zM530.19 645.3h2.57V645.7h-2.57zM533.27 645.3h2.57V645.7h-2.57zM536.34 645.3h2.57V645.7h-2.57zM539.41 645.3h2.57V645.7h-2.57zM542.49 645.3h2.57V645.7h-2.57zM545.56 645.3h2.57V645.7h-2.57zM548.63 643.2h2.57V643.6h-2.57zM551.71 648.2h2.57V648.6h-2.57zM554.78 652.0h2.57V652.7h-2.57zM557.85 652.0h2.57V652.7h-2.57zM560.93 652.0h2.57V652.7h-2.57zM564.00 652.0h2.57V652.7h-2.57zM567.08 652.0h2.57V652.7h-2.57zM570.15 652.0h2.57V652.7h-2.57zM573.22 652.0h2.57V652.7h-2.57zM576.30 647.2h2.57V651.9h-2.57zM579.37 646.0h2.57V650.6h-2.57zM582.44 646.0h2.57V650.6h-2.57zM585.52 646.0h2.57V650.6h-2.57zM588.59 646.0h2.57V650.6h-2.57zM591.66 646.0h2.57V650.6h-2.57zM594.74 646.0h2.57V650.6h-2.57zM597.81 639.1h2.57V643.8h-2.57zM600.88 639.1h2.57V643.8h-2.57zM603.96 638.2h2.57V643.0h-2.57zM607.03 638.2h2.57V643.0h-2.57zM610.10 638.2h2.57V643.0h-2.57zM613.18 638.2h2.57V643.0h-2.57zM616.25 596.2h2.57V600.4h-2.57zM619.32 596.2h2.57V600.4h-2.57zM622.40 590.5h2.57V595.6h-2.57zM625.47 590.5h2.57V595.6h-2.57zM628.55 590.5h2.57V595.6h-2.57zM631.62 590.5h2.57V595.6h-2.57zM634.69 587.9h2.57V592.7h-2.57zM637.77 579.9h2.57V584.6h-2.57zM640.84 594.4h2.57V599.8h-2.57zM643.91 574.3h2.57V579.7h-2.57zM646.99 560.2h2.57V565.5h-2.57zM650.06 546.0h2.57V556.0h-2.57zM653.13 551.9h2.57V561.3h-2.57zM656.21 552.7h2.57V562.5h-2.57zM659.28 552.7h2.57V562.5h-2.57zM662.35 554.6h2.57V566.1h-2.57zM665.43 554.6h2.57V566.1h-2.57zM668.50 554.6h2.57V566.1h-2.57zM671.57 557.8h2.57V568.8h-2.57zM674.65 554.2h2.57V564.9h-2.57zM677.72 554.2h2.57V564.9h-2.57zM680.79 554.2h2.57V564.9h-2.57zM683.87 554.2h2.57V564.9h-2.57zM686.94 554.2h2.57V564.9h-2.57zM690.02 554.2h2.57V564.9h-2.57zM693.09 554.2h2.57V564.9h-2.57zM696.16 555.4h2.57V566.1h-2.57zM699.24 555.4h2.57V566.1h-2.57zM702.31 555.4h2.57V566.1h-2.57zM705.38 555.4h2.57V566.1h-2.57zM708.46 555.4h2.57V566.1h-2.57zM711.53 549.9h2.57V559.6h-2.57zM714.60 546.6h2.57V557.2h-2.57zM717.68 546.6h2.57V557.2h-2.57zM720.75 547.5h2.57V558.1h-2.57zM723.82 548.3h2.57V559.0h-2.57zM726.90 548.3h2.57V559.0h-2.57zM729.97 548.3h2.57V559.0h-2.57zM733.04 550.1h2.57V561.0h-2.57zM736.12 550.1h2.57V561.0h-2.57zM739.19 550.1h2.57V561.0h-2.57zM742.26 550.1h2.57V561.0h-2.57zM745.34 550.1h2.57V561.0h-2.57zM748.41 550.1h2.57V561.0h-2.57zM751.49 551.5h2.57V561.9h-2.57zM754.56 557.4h2.57V568.0h-2.57zM757.63 557.4h2.57V568.0h-2.57zM760.71 562.2h2.57V572.8h-2.57zM763.78 565.7h2.57V575.8h-2.57zM766.85 545.0h2.57V555.7h-2.57zM769.93 545.0h2.57V555.7h-2.57zM773.00 549.2h2.57V559.8h-2.57zM776.07 549.2h2.57V559.8h-2.57zM779.15 549.2h2.57V559.8h-2.57zM782.22 549.2h2.57V559.8h-2.57zM785.29 549.2h2.57V559.8h-2.57zM788.37 549.2h2.57V559.8h-2.57zM791.44 549.2h2.57V559.8h-2.57zM794.51 552.7h2.57V562.8h-2.57zM797.59 560.6h2.57V571.0h-2.57zM800.66 560.6h2.57V571.0h-2.57zM803.73 500.3h2.57V510.5h-2.57zM806.81 500.3h2.57V510.5h-2.57zM809.88 500.3h2.57V510.5h-2.57zM812.96 498.9h2.57V509.3h-2.57zM816.03 498.0h2.57V508.4h-2.57zM819.10 501.9h2.57V511.9h-2.57zM822.18 500.7h2.57V511.0h-2.57zM825.25 500.7h2.57V511.0h-2.57zM828.32 500.7h2.57V511.0h-2.57zM831.40 500.7h2.57V511.0h-2.57zM834.47 504.2h2.57V514.3h-2.57zM837.54 505.1h2.57V515.5h-2.57zM840.62 509.3h2.57V519.6h-2.57zM843.69 516.4h2.57V524.9h-2.57zM846.76 518.4h2.57V525.9h-2.57zM849.84 517.2h2.57V524.3h-2.57zM852.91 521.1h2.57V528.5h-2.57zM855.98 521.1h2.57V528.5h-2.57zM859.06 522.8h2.57V530.3h-2.57zM862.13 522.8h2.57V530.3h-2.57zM865.20 527.9h2.57V535.6h-2.57zM868.28 532.3h2.57V539.1h-2.57zM871.35 532.3h2.57V539.1h-2.57zM874.43 532.3h2.57V539.1h-2.57zM877.50 540.9h2.57V548.0h-2.57zM880.57 548.0h2.57V554.5h-2.57zM883.65 551.9h2.57V558.4h-2.57zM886.72 551.9h2.57V558.4h-2.57zM889.79 551.9h2.57V558.4h-2.57zM892.87 554.5h2.57V560.3h-2.57zM895.94 552.3h2.57V557.8h-2.57zM899.01 549.5h2.57V554.9h-2.57zM902.09 549.5h2.57V554.9h-2.57zM905.16 549.5h2.57V554.9h-2.57zM908.23 549.5h2.57V554.9h-2.57zM911.31 549.5h2.57V554.9h-2.57zM914.38 550.9h2.57V555.7h-2.57zM917.45 550.9h2.57V555.7h-2.57zM920.53 548.8h2.57V553.9h-2.57zM923.60 548.8h2.57V553.9h-2.57zM926.67 547.6h2.57V552.7h-2.57zM929.75 547.6h2.57V552.7h-2.57zM932.82 547.6h2.57V552.7h-2.57zM935.90 547.6h2.57V552.7h-2.57zM938.97 545.6h2.57V550.9h-2.57zM942.04 545.6h2.57V550.9h-2.57zM945.12 543.3h2.57V548.3h-2.57zM948.19 543.3h2.57V548.3h-2.57zM951.26 543.3h2.57V548.3h-2.57zM954.34 543.3h2.57V548.3h-2.57zM957.41 543.9h2.57V548.6h-2.57zM960.48 543.9h2.57V548.6h-2.57zM963.56 543.9h2.57V548.6h-2.57zM966.63 542.7h2.57V547.4h-2.57zM969.70 542.7h2.57V547.4h-2.57zM972.78 542.7h2.57V547.4h-2.57zM975.85 542.7h2.57V547.4h-2.57zM978.92 540.5h2.57V545.6h-2.57zM982.00 498.9h2.57V504.2h-2.57zM985.07 470.4h2.57V475.7h-2.57zM988.14 457.4h2.57V462.7h-2.57zM991.22 450.3h2.57V455.6h-2.57zM994.29 442.6h2.57V447.9h-2.57zM997.37 433.2h2.57V437.9h-2.57zM1000.44 431.4h2.57V435.9h-2.57zM1003.51 431.4h2.57V435.9h-2.57zM1006.59 429.6h2.57V433.8h-2.57zM1009.66 427.2h2.57V430.8h-2.57zM1012.73 425.5h2.57V429.0h-2.57zM1015.81 421.3h2.57V424.9h-2.57zM1018.88 416.6h2.57V420.2h-2.57zM1021.95 411.9h2.57V415.4h-2.57zM1025.03 408.3h2.57V411.9h-2.57zM1028.10 407.1h2.57V410.3h-2.57zM1031.17 407.1h2.57V410.3h-2.57zM1034.25 407.1h2.57V410.3h-2.57zM1037.32 405.3h2.57V408.3h-2.57zM1040.39 402.1h2.57V405.0h-2.57zM1043.47 400.6h2.57V403.9h-2.57zM1046.54 402.4h2.57V405.4h-2.57zM1049.61 405.3h2.57V407.7h-2.57zM1052.69 405.3h2.57V407.7h-2.57zM1055.76 413.4h2.57V416.3h-2.57zM1058.84 424.9h2.57V427.8h-2.57zM1061.91 440.0h2.57V442.6h-2.57zM1064.98 459.2h2.57V462.0h-2.57zM1068.06 234.3h2.57V237.5h-2.57zM1071.13 148.2h2.57V151.8h-2.57zM1074.20 106.9h2.57V109.8h-2.57zM1077.28 106.0h2.57V109.8h-2.57z"/>
<path fill="#8aa6e8" d="M195.18 1074.5h2.57V1075.0h-2.57zM198.26 1074.5h2.57V1075.0h-2.57zM201.33 1074.5h2.57V1075.0h-2.57zM204.40 1074.5h2.57V1075.0h-2.57zM207.48 1074.5h2.57V1075.0h-2.57zM210.55 1074.5h2.57V1075.0h-2.57zM213.62 1074.5h2.57V1075.0h-2.57zM216.70 1074.5h2.57V1075.0h-2.57zM219.77 1074.5h2.57V1075.0h-2.57zM222.84 1074.5h2.57V1075.0h-2.57zM225.92 1074.5h2.57V1075.0h-2.57zM228.99 1067.0h2.57V1067.6h-2.57zM232.06 1067.0h2.57V1067.6h-2.57zM235.14 1060.5h2.57V1062.5h-2.57zM238.21 1060.5h2.57V1062.5h-2.57zM241.28 1060.5h2.57V1062.5h-2.57zM244.36 1060.5h2.57V1062.5h-2.57zM247.43 1060.5h2.57V1062.5h-2.57zM250.50 1060.5h2.57V1062.5h-2.57zM253.58 1060.5h2.57V1062.5h-2.57zM256.65 1060.5h2.57V1062.5h-2.57zM259.73 1060.5h2.57V1062.5h-2.57zM262.80 1060.5h2.57V1062.5h-2.57zM265.87 1060.5h2.57V1062.5h-2.57zM268.95 1060.5h2.57V1062.5h-2.57zM272.02 1060.5h2.57V1062.5h-2.57zM275.09 1060.5h2.57V1062.5h-2.57zM278.17 1060.5h2.57V1062.5h-2.57zM281.24 1060.5h2.57V1062.5h-2.57zM284.31 940.8h2.57V942.6h-2.57zM287.39 661.4h2.57V663.6h-2.57zM290.46 661.4h2.57V663.6h-2.57zM293.53 661.4h2.57V663.6h-2.57zM296.61 661.4h2.57V663.6h-2.57zM299.68 661.4h2.57V663.6h-2.57zM302.75 661.4h2.57V663.6h-2.57zM305.83 661.4h2.57V663.6h-2.57zM308.90 661.4h2.57V663.6h-2.57zM311.97 661.4h2.57V663.6h-2.57zM315.05 661.4h2.57V663.6h-2.57zM318.12 661.4h2.57V663.6h-2.57zM321.20 661.4h2.57V663.6h-2.57zM324.27 661.4h2.57V663.6h-2.57zM327.34 661.4h2.57V663.6h-2.57zM330.42 661.4h2.57V663.6h-2.57zM333.49 661.4h2.57V663.6h-2.57zM336.56 661.4h2.57V663.6h-2.57zM339.64 661.4h2.57V663.6h-2.57zM342.71 661.4h2.57V663.6h-2.57zM345.78 659.6h2.57V662.5h-2.57zM348.86 659.6h2.57V662.5h-2.57zM351.93 659.6h2.57V662.5h-2.57zM355.00 656.6h2.57V661.8h-2.57zM358.08 656.6h2.57V661.8h-2.57zM361.15 656.6h2.57V661.8h-2.57zM364.22 656.6h2.57V661.8h-2.57zM367.30 656.6h2.57V661.8h-2.57zM370.37 656.6h2.57V661.8h-2.57zM373.44 656.6h2.57V661.8h-2.57zM376.52 651.8h2.57V655.9h-2.57zM379.59 651.8h2.57V655.9h-2.57zM382.67 651.8h2.57V655.9h-2.57zM385.74 653.7h2.57V658.7h-2.57zM388.81 650.7h2.57V659.1h-2.57zM391.89 650.7h2.57V659.1h-2.57zM394.96 650.7h2.57V659.1h-2.57zM398.03 650.7h2.57V659.1h-2.57zM401.11 650.7h2.57V659.1h-2.57zM404.18 650.7h2.57V659.1h-2.57zM407.25 650.7h2.57V659.1h-2.57zM410.33 649.2h2.57V658.7h-2.57zM413.40 649.2h2.57V658.7h-2.57zM416.47 649.2h2.57V658.7h-2.57zM419.55 649.2h2.57V658.7h-2.57zM422.62 649.2h2.57V658.7h-2.57zM425.69 649.2h2.57V658.7h-2.57zM428.77 648.4h2.57V658.0h-2.57zM431.84 647.3h2.57V656.9h-2.57zM434.91 647.3h2.57V656.9h-2.57zM437.99 645.4h2.57V655.0h-2.57zM441.06 645.4h2.57V655.0h-2.57zM444.14 645.4h2.57V655.0h-2.57zM447.21 645.4h2.57V655.0h-2.57zM450.28 647.3h2.57V656.2h-2.57zM453.36 647.3h2.57V656.2h-2.57zM456.43 646.0h2.57V656.0h-2.57zM459.50 646.0h2.57V656.0h-2.57zM462.58 646.0h2.57V656.0h-2.57zM465.65 646.0h2.57V656.0h-2.57zM468.72 646.0h2.57V656.0h-2.57zM471.80 646.0h2.57V656.0h-2.57zM474.87 646.0h2.57V656.0h-2.57zM477.94 646.0h2.57V656.0h-2.57zM481.02 646.0h2.57V656.0h-2.57zM484.09 646.0h2.57V656.0h-2.57zM487.16 646.0h2.57V656.0h-2.57zM490.24 646.0h2.57V656.0h-2.57zM493.31 644.7h2.57V654.6h-2.57zM496.38 644.7h2.57V654.6h-2.57zM499.46 644.7h2.57V654.6h-2.57zM502.53 644.7h2.57V654.6h-2.57zM505.61 644.7h2.57V654.6h-2.57zM508.68 644.7h2.57V654.6h-2.57zM511.75 645.7h2.57V656.1h-2.57zM514.83 645.7h2.57V656.1h-2.57zM517.90 645.7h2.57V656.1h-2.57zM520.97 645.7h2.57V656.1h-2.57zM524.05 645.7h2.57V656.1h-2.57zM527.12 645.7h2.57V656.1h-2.57zM530.19 645.7h2.57V656.1h-2.57zM533.27 645.7h2.57V656.1h-2.57zM536.34 645.7h2.57V656.1h-2.57zM539.41 645.7h2.57V656.1h-2.57zM542.49 645.7h2.57V656.1h-2.57zM545.56 645.7h2.57V656.1h-2.57zM548.63 643.6h2.57V656.1h-2.57zM551.71 648.6h2.57V659.8h-2.57zM554.78 652.7h2.57V664.9h-2.57zM557.85 652.7h2.57V664.9h-2.57zM560.93 652.7h2.57V664.9h-2.57zM564.00 652.7h2.57V664.9h-2.57zM567.08 652.7h2.57V664.9h-2.57zM570.15 652.7h2.57V664.9h-2.57zM573.22 652.7h2.57V664.9h-2.57zM576.30 651.9h2.57V664.2h-2.57zM579.37 650.6h2.57V663.5h-2.57zM582.44 650.6h2.57V663.5h-2.57zM585.52 650.6h2.57V663.5h-2.57zM588.59 650.6h2.57V663.5h-2.57zM591.66 650.6h2.57V665.7h-2.57zM594.74 650.6h2.57V665.7h-2.57zM597.81 643.8h2.57V660.5h-2.57zM600.88 643.8h2.57V660.5h-2.57zM603.96 643.0h2.57V660.2h-2.57zM607.03 643.0h2.57V660.2h-2.57zM610.10 643.0h2.57V660.2h-2.57zM613.18 643.0h2.57V660.2h-2.57zM616.25 600.4h2.57V660.2h-2.57zM619.32 600.4h2.57V660.2h-2.57zM622.40 595.6h2.57V655.0h-2.57zM625.47 595.6h2.57V655.0h-2.57zM628.55 595.6h2.57V655.0h-2.57zM631.62 595.6h2.57V655.0h-2.57zM634.69 592.7h2.57V654.0h-2.57zM637.77 584.6h2.57V653.6h-2.57zM640.84 599.8h2.57V650.0h-2.57zM643.91 579.7h2.57V628.1h-2.57zM646.99 565.5h2.57V624.6h-2.57zM650.06 556.0h2.57V622.8h-2.57zM653.13 561.3h2.57V622.8h-2.57zM656.21 562.5h2.57V622.8h-2.57zM659.28 562.5h2.57V622.8h-2.57zM662.35 566.1h2.57V622.8h-2.57zM665.43 566.1h2.57V622.8h-2.57zM668.50 566.1h2.57V622.8h-2.57zM671.57 568.8h2.57V624.0h-2.57zM674.65 564.9h2.57V624.0h-2.57zM677.72 564.9h2.57V624.0h-2.57zM680.79 564.9h2.57V624.0h-2.57zM683.87 564.9h2.57V624.0h-2.57zM686.94 564.9h2.57V624.0h-2.57zM690.02 564.9h2.57V624.0h-2.57zM693.09 564.9h2.57V624.0h-2.57zM696.16 566.1h2.57V625.2h-2.57zM699.24 566.1h2.57V625.2h-2.57zM702.31 566.1h2.57V625.2h-2.57zM705.38 566.1h2.57V625.2h-2.57zM708.46 566.1h2.57V625.2h-2.57zM711.53 559.6h2.57V625.5h-2.57zM714.60 557.2h2.57V625.5h-2.57zM717.68 557.2h2.57V625.5h-2.57zM720.75 558.1h2.57V625.5h-2.57zM723.82 559.0h2.57V625.5h-2.57zM726.90 559.0h2.57V625.5h-2.57zM729.97 559.0h2.57V625.5h-2.57zM733.04 561.0h2.57V625.5h-2.57zM736.12 561.0h2.57V625.5h-2.57zM739.19 561.0h2.57V625.5h-2.57zM742.26 561.0h2.57V625.5h-2.57zM745.34 561.0h2.57V625.5h-2.57zM748.41 561.0h2.57V625.5h-2.57zM751.49 561.9h2.57V625.5h-2.57zM754.56 568.0h2.57V629.5h-2.57zM757.63 568.0h2.57V629.5h-2.57zM760.71 572.8h2.57V633.2h-2.57zM763.78 575.8h2.57V637.7h-2.57zM766.85 555.7h2.57V637.7h-2.57zM769.93 555.7h2.57V637.7h-2.57zM773.00 559.8h2.57V641.4h-2.57zM776.07 559.8h2.57V641.4h-2.57zM779.15 559.8h2.57V641.4h-2.57zM782.22 559.8h2.57V641.4h-2.57zM785.29 559.8h2.57V641.4h-2.57zM788.37 559.8h2.57V641.4h-2.57zM791.44 559.8h2.57V641.4h-2.57zM794.51 562.8h2.57V644.3h-2.57zM797.59 571.0h2.57V651.7h-2.57zM800.66 571.0h2.57V651.7h-2.57zM803.73 510.5h2.57V651.7h-2.57zM806.81 510.5h2.57V651.7h-2.57zM809.88 510.5h2.57V651.7h-2.57zM812.96 509.3h2.57V651.7h-2.57zM816.03 508.4h2.57V651.7h-2.57zM819.10 511.9h2.57V653.9h-2.57zM822.18 511.0h2.57V653.9h-2.57zM825.25 511.0h2.57V653.9h-2.57zM828.32 511.0h2.57V653.9h-2.57zM831.40 511.0h2.57V653.9h-2.57zM834.47 514.3h2.57V653.9h-2.57zM837.54 515.5h2.57V658.3h-2.57zM840.62 519.6h2.57V663.5h-2.57zM843.69 524.9h2.57V663.5h-2.57zM846.76 525.9h2.57V667.9h-2.57zM849.84 524.3h2.57V667.9h-2.57zM852.91 528.5h2.57V671.6h-2.57zM855.98 528.5h2.57V671.6h-2.57zM859.06 530.3h2.57V671.6h-2.57zM862.13 530.3h2.57V671.6h-2.57zM865.20 535.6h2.57V673.9h-2.57zM868.28 539.1h2.57V673.9h-2.57zM871.35 539.1h2.57V673.9h-2.57zM874.43 539.1h2.57V673.9h-2.57zM877.50 548.0h2.57V673.9h-2.57zM880.57 554.5h2.57V676.1h-2.57zM883.65 558.4h2.57V676.1h-2.57zM886.72 558.4h2.57V689.8h-2.57zM889.79 558.4h2.57V689.8h-2.57zM892.87 560.3h2.57V689.8h-2.57zM895.94 557.8h2.57V689.8h-2.57zM899.01 554.9h2.57V689.8h-2.57zM902.09 554.9h2.57V689.8h-2.57zM905.16 554.9h2.57V689.8h-2.57zM908.23 554.9h2.57V689.8h-2.57zM911.31 554.9h2.57V689.8h-2.57zM914.38 555.7h2.57V689.8h-2.57zM917.45 555.7h2.57V689.8h-2.57zM920.53 553.9h2.57V684.2h-2.57zM923.60 553.9h2.57V684.2h-2.57zM926.67 552.7h2.57V684.2h-2.57zM929.75 552.7h2.57V683.0h-2.57zM932.82 552.7h2.57V683.0h-2.57zM935.90 552.7h2.57V683.0h-2.57zM938.97 550.9h2.57V681.5h-2.57zM942.04 550.9h2.57V680.6h-2.57zM945.12 548.3h2.57V680.6h-2.57zM948.19 548.3h2.57V680.6h-2.57zM951.26 548.3h2.57V680.6h-2.57zM954.34 548.3h2.57V680.6h-2.57zM957.41 548.6h2.57V683.0h-2.57zM960.48 548.6h2.57V680.0h-2.57zM963.56 548.6h2.57V680.0h-2.57zM966.63 547.4h2.57V680.0h-2.57zM969.70 547.4h2.57V680.0h-2.57zM972.78 547.4h2.57V680.0h-2.57zM975.85 547.4h2.57V680.0h-2.57zM978.92 545.6h2.57V677.7h-2.57zM982.00 504.2h2.57V677.7h-2.57zM985.07 475.7h2.57V671.7h-2.57zM988.14 462.7h2.57V671.7h-2.57zM991.22 455.6h2.57V671.7h-2.57zM994.29 447.9h2.57V671.7h-2.57zM997.37 437.9h2.57V667.6h-2.57zM1000.44 435.9h2.57V680.0h-2.57zM1003.51 435.9h2.57V680.0h-2.57zM1006.59 433.8h2.57V680.0h-2.57zM1009.66 430.8h2.57V680.0h-2.57zM1012.73 429.0h2.57V680.0h-2.57zM1015.81 424.9h2.57V680.0h-2.57zM1018.88 420.2h2.57V677.0h-2.57zM1021.95 415.4h2.57V672.9h-2.57zM1025.03 411.9h2.57V672.9h-2.57zM1028.10 410.3h2.57V672.9h-2.57zM1031.17 410.3h2.57V670.0h-2.57zM1034.25 410.3h2.57V670.0h-2.57zM1037.32 408.3h2.57V670.0h-2.57zM1040.39 405.0h2.57V670.0h-2.57zM1043.47 403.9h2.57V668.2h-2.57zM1046.54 405.4h2.57V668.2h-2.57zM1049.61 407.7h2.57V668.2h-2.57zM1052.69 407.7h2.57V668.2h-2.57zM1055.76 416.3h2.57V668.2h-2.57zM1058.84 427.8h2.57V670.6h-2.57zM1061.91 442.6h2.57V674.1h-2.57zM1064.98 462.0h2.57V687.7h-2.57zM1068.06 237.5h2.57V622.7h-2.57zM1071.13 151.8h2.57V596.7h-2.57zM1074.20 109.8h2.57V583.6h-2.57zM1077.28 109.8h2.57V583.6h-2.57z"/>
<path fill="#f1bc39" d="M161.37 1084.6h2.57V1086.0h-2.57zM164.45 1084.6h2.57V1086.0h-2.57zM167.52 1084.6h2.57V1086.0h-2.57zM170.59 1084.6h2.57V1086.0h-2.57zM173.67 1084.6h2.57V1086.0h-2.57zM176.74 1084.6h2.57V1086.0h-2.57zM179.81 1084.6h2.57V1086.0h-2.57zM182.89 1084.6h2.57V1086.0h-2.57zM185.96 1084.6h2.57V1086.0h-2.57zM189.03 1083.5h2.57V1086.0h-2.57zM192.11 1079.0h2.57V1086.0h-2.57zM195.18 1075.0h2.57V1086.0h-2.57zM198.26 1075.0h2.57V1086.0h-2.57zM201.33 1075.0h2.57V1086.0h-2.57zM204.40 1075.0h2.57V1086.0h-2.57zM207.48 1075.0h2.57V1086.0h-2.57zM210.55 1075.0h2.57V1086.0h-2.57zM213.62 1075.0h2.57V1086.0h-2.57zM216.70 1075.0h2.57V1086.0h-2.57zM219.77 1075.0h2.57V1086.0h-2.57zM222.84 1075.0h2.57V1086.0h-2.57zM225.92 1075.0h2.57V1086.0h-2.57zM228.99 1067.6h2.57V1086.0h-2.57zM232.06 1067.6h2.57V1086.0h-2.57zM235.14 1062.5h2.57V1086.0h-2.57zM238.21 1062.5h2.57V1086.0h-2.57zM241.28 1062.5h2.57V1086.0h-2.57zM244.36 1062.5h2.57V1086.0h-2.57zM247.43 1062.5h2.57V1086.0h-2.57zM250.50 1062.5h2.57V1086.0h-2.57zM253.58 1062.5h2.57V1086.0h-2.57zM256.65 1062.5h2.57V1086.0h-2.57zM259.73 1062.5h2.57V1086.0h-2.57zM262.80 1062.5h2.57V1086.0h-2.57zM265.87 1062.5h2.57V1086.0h-2.57zM268.95 1062.5h2.57V1086.0h-2.57zM272.02 1062.5h2.57V1086.0h-2.57zM275.09 1062.5h2.57V1086.0h-2.57zM278.17 1062.5h2.57V1086.0h-2.57zM281.24 1062.5h2.57V1086.0h-2.57zM284.31 942.6h2.57V1086.0h-2.57zM287.39 663.6h2.57V1086.0h-2.57zM290.46 663.6h2.57V1086.0h-2.57zM293.53 663.6h2.57V1086.0h-2.57zM296.61 663.6h2.57V1086.0h-2.57zM299.68 663.6h2.57V1086.0h-2.57zM302.75 663.6h2.57V1086.0h-2.57zM305.83 663.6h2.57V1086.0h-2.57zM308.90 663.6h2.57V1086.0h-2.57zM311.97 663.6h2.57V1086.0h-2.57zM315.05 663.6h2.57V1086.0h-2.57zM318.12 663.6h2.57V1086.0h-2.57zM321.20 663.6h2.57V1086.0h-2.57zM324.27 663.6h2.57V1086.0h-2.57zM327.34 663.6h2.57V1086.0h-2.57zM330.42 663.6h2.57V1086.0h-2.57zM333.49 663.6h2.57V1086.0h-2.57zM336.56 663.6h2.57V1086.0h-2.57zM339.64 663.6h2.57V1086.0h-2.57zM342.71 663.6h2.57V1086.0h-2.57zM345.78 662.5h2.57V1086.0h-2.57zM348.86 662.5h2.57V1086.0h-2.57zM351.93 662.5h2.57V1086.0h-2.57zM355.00 661.8h2.57V1086.0h-2.57zM358.08 661.8h2.57V1086.0h-2.57zM361.15 661.8h2.57V1086.0h-2.57zM364.22 661.8h2.57V1086.0h-2.57zM367.30 661.8h2.57V1086.0h-2.57zM370.37 661.8h2.57V1086.0h-2.57zM373.44 661.8h2.57V1086.0h-2.57zM376.52 655.9h2.57V1086.0h-2.57zM379.59 655.9h2.57V1086.0h-2.57zM382.67 655.9h2.57V1086.0h-2.57zM385.74 658.7h2.57V1086.0h-2.57zM388.81 659.1h2.57V1086.0h-2.57zM391.89 659.1h2.57V1086.0h-2.57zM394.96 659.1h2.57V1086.0h-2.57zM398.03 659.1h2.57V1086.0h-2.57zM401.11 659.1h2.57V1086.0h-2.57zM404.18 659.1h2.57V1086.0h-2.57zM407.25 659.1h2.57V1086.0h-2.57zM410.33 658.7h2.57V1086.0h-2.57zM413.40 658.7h2.57V1086.0h-2.57zM416.47 658.7h2.57V1086.0h-2.57zM419.55 658.7h2.57V1086.0h-2.57zM422.62 658.7h2.57V1086.0h-2.57zM425.69 658.7h2.57V1086.0h-2.57zM428.77 658.0h2.57V1086.0h-2.57zM431.84 656.9h2.57V1086.0h-2.57zM434.91 656.9h2.57V1086.0h-2.57zM437.99 655.0h2.57V1086.0h-2.57zM441.06 655.0h2.57V1086.0h-2.57zM444.14 655.0h2.57V1086.0h-2.57zM447.21 655.0h2.57V1086.0h-2.57zM450.28 656.2h2.57V1086.0h-2.57zM453.36 656.2h2.57V1086.0h-2.57zM456.43 656.0h2.57V1086.0h-2.57zM459.50 656.0h2.57V1086.0h-2.57zM462.58 656.0h2.57V1086.0h-2.57zM465.65 656.0h2.57V1086.0h-2.57zM468.72 656.0h2.57V1086.0h-2.57zM471.80 656.0h2.57V1086.0h-2.57zM474.87 656.0h2.57V1086.0h-2.57zM477.94 656.0h2.57V1086.0h-2.57zM481.02 656.0h2.57V1086.0h-2.57zM484.09 656.0h2.57V1086.0h-2.57zM487.16 656.0h2.57V1086.0h-2.57zM490.24 656.0h2.57V1086.0h-2.57zM493.31 654.6h2.57V1086.0h-2.57zM496.38 654.6h2.57V1086.0h-2.57zM499.46 654.6h2.57V1086.0h-2.57zM502.53 654.6h2.57V1086.0h-2.57zM505.61 654.6h2.57V1086.0h-2.57zM508.68 654.6h2.57V1086.0h-2.57zM511.75 656.1h2.57V1086.0h-2.57zM514.83 656.1h2.57V1086.0h-2.57zM517.90 656.1h2.57V1086.0h-2.57zM520.97 656.1h2.57V1086.0h-2.57zM524.05 656.1h2.57V1086.0h-2.57zM527.12 656.1h2.57V1086.0h-2.57zM530.19 656.1h2.57V1086.0h-2.57zM533.27 656.1h2.57V1086.0h-2.57zM536.34 656.1h2.57V1086.0h-2.57zM539.41 656.1h2.57V1086.0h-2.57zM542.49 656.1h2.57V1086.0h-2.57zM545.56 656.1h2.57V1086.0h-2.57zM548.63 656.1h2.57V1086.0h-2.57zM551.71 659.8h2.57V1086.0h-2.57zM554.78 664.9h2.57V1086.0h-2.57zM557.85 664.9h2.57V1086.0h-2.57zM560.93 664.9h2.57V1086.0h-2.57zM564.00 664.9h2.57V1086.0h-2.57zM567.08 664.9h2.57V1086.0h-2.57zM570.15 664.9h2.57V1086.0h-2.57zM573.22 664.9h2.57V1086.0h-2.57zM576.30 664.2h2.57V1086.0h-2.57zM579.37 663.5h2.57V1086.0h-2.57zM582.44 663.5h2.57V1086.0h-2.57zM585.52 663.5h2.57V1086.0h-2.57zM588.59 663.5h2.57V1086.0h-2.57zM591.66 665.7h2.57V1086.0h-2.57zM594.74 665.7h2.57V1086.0h-2.57zM597.81 660.5h2.57V1080.2h-2.57zM600.88 660.5h2.57V1080.2h-2.57zM603.96 660.2h2.57V1080.2h-2.57zM607.03 660.2h2.57V1080.2h-2.57zM610.10 660.2h2.57V1080.2h-2.57zM613.18 660.2h2.57V1080.2h-2.57zM616.25 660.2h2.57V1080.2h-2.57zM619.32 660.2h2.57V1074.3h-2.57zM622.40 655.0h2.57V1074.3h-2.57zM625.47 655.0h2.57V1074.3h-2.57zM628.55 655.0h2.57V1074.3h-2.57zM631.62 655.0h2.57V1074.3h-2.57zM634.69 654.0h2.57V1074.3h-2.57zM637.77 653.6h2.57V1074.3h-2.57zM640.84 650.0h2.57V1074.3h-2.57zM643.91 628.1h2.57V1053.6h-2.57zM646.99 624.6h2.57V1049.9h-2.57zM650.06 622.8h2.57V1048.5h-2.57zM653.13 622.8h2.57V1048.5h-2.57zM656.21 622.8h2.57V1048.5h-2.57zM659.28 622.8h2.57V1048.5h-2.57zM662.35 622.8h2.57V1048.5h-2.57zM665.43 622.8h2.57V1048.5h-2.57zM668.50 622.8h2.57V1049.9h-2.57zM671.57 624.0h2.57V1049.9h-2.57zM674.65 624.0h2.57V1049.9h-2.57zM677.72 624.0h2.57V1049.9h-2.57zM680.79 624.0h2.57V1049.9h-2.57zM683.87 624.0h2.57V1049.9h-2.57zM686.94 624.0h2.57V1049.9h-2.57zM690.02 624.0h2.57V1049.9h-2.57zM693.09 624.0h2.57V1049.9h-2.57zM696.16 625.2h2.57V1049.9h-2.57zM699.24 625.2h2.57V1051.9h-2.57zM702.31 625.2h2.57V1051.9h-2.57zM705.38 625.2h2.57V1051.9h-2.57zM708.46 625.2h2.57V1051.9h-2.57zM711.53 625.5h2.57V1050.7h-2.57zM714.60 625.5h2.57V1050.7h-2.57zM717.68 625.5h2.57V1050.7h-2.57zM720.75 625.5h2.57V1050.7h-2.57zM723.82 625.5h2.57V1050.7h-2.57zM726.90 625.5h2.57V1050.7h-2.57zM729.97 625.5h2.57V1050.7h-2.57zM733.04 625.5h2.57V1050.7h-2.57zM736.12 625.5h2.57V1050.7h-2.57zM739.19 625.5h2.57V1050.7h-2.57zM742.26 625.5h2.57V1050.7h-2.57zM745.34 625.5h2.57V1050.7h-2.57zM748.41 625.5h2.57V1050.7h-2.57zM751.49 625.5h2.57V1050.7h-2.57zM754.56 629.5h2.57V1050.7h-2.57zM757.63 629.5h2.57V1050.7h-2.57zM760.71 633.2h2.57V1050.7h-2.57zM763.78 637.7h2.57V1050.7h-2.57zM766.85 637.7h2.57V1050.7h-2.57zM769.93 637.7h2.57V1050.7h-2.57zM773.00 641.4h2.57V1050.7h-2.57zM776.07 641.4h2.57V1050.7h-2.57zM779.15 641.4h2.57V1050.7h-2.57zM782.22 641.4h2.57V1050.7h-2.57zM785.29 641.4h2.57V1050.7h-2.57zM788.37 641.4h2.57V1050.7h-2.57zM791.44 641.4h2.57V1050.7h-2.57zM794.51 644.3h2.57V1050.7h-2.57zM797.59 651.7h2.57V1050.7h-2.57zM800.66 651.7h2.57V1050.7h-2.57zM803.73 651.7h2.57V1050.7h-2.57zM806.81 651.7h2.57V1050.7h-2.57zM809.88 651.7h2.57V1050.7h-2.57zM812.96 651.7h2.57V1050.7h-2.57zM816.03 651.7h2.57V1050.7h-2.57zM819.10 653.9h2.57V1050.7h-2.57zM822.18 653.9h2.57V1050.7h-2.57zM825.25 653.9h2.57V1050.7h-2.57zM828.32 653.9h2.57V1050.7h-2.57zM831.40 653.9h2.57V1050.7h-2.57zM834.47 653.9h2.57V1050.7h-2.57zM837.54 658.3h2.57V1050.7h-2.57zM840.62 663.5h2.57V1050.7h-2.57zM843.69 663.5h2.57V1050.7h-2.57zM846.76 667.9h2.57V1050.7h-2.57zM849.84 667.9h2.57V1050.7h-2.57zM852.91 671.6h2.57V1050.7h-2.57zM855.98 671.6h2.57V1050.7h-2.57zM859.06 671.6h2.57V1050.7h-2.57zM862.13 671.6h2.57V1050.7h-2.57zM865.20 673.9h2.57V1050.7h-2.57zM868.28 673.9h2.57V1050.7h-2.57zM871.35 673.9h2.57V1050.7h-2.57zM874.43 673.9h2.57V1050.7h-2.57zM877.50 673.9h2.57V1050.7h-2.57zM880.57 676.1h2.57V1050.7h-2.57zM883.65 676.1h2.57V1050.7h-2.57zM886.72 689.8h2.57V1061.0h-2.57zM889.79 689.8h2.57V1061.0h-2.57zM892.87 689.8h2.57V1061.0h-2.57zM895.94 689.8h2.57V1061.0h-2.57zM899.01 689.8h2.57V1061.0h-2.57zM902.09 689.8h2.57V1061.0h-2.57zM905.16 689.8h2.57V1061.0h-2.57zM908.23 689.8h2.57V1061.0h-2.57zM911.31 689.8h2.57V1061.0h-2.57zM914.38 689.8h2.57V1061.0h-2.57zM917.45 689.8h2.57V1061.0h-2.57zM920.53 684.2h2.57V1057.2h-2.57zM923.60 684.2h2.57V1057.2h-2.57zM926.67 684.2h2.57V1057.2h-2.57zM929.75 683.0h2.57V1057.2h-2.57zM932.82 683.0h2.57V1057.2h-2.57zM935.90 683.0h2.57V1057.2h-2.57zM938.97 681.5h2.57V1057.2h-2.57zM942.04 680.6h2.57V1057.2h-2.57zM945.12 680.6h2.57V1057.2h-2.57zM948.19 680.6h2.57V1057.2h-2.57zM951.26 680.6h2.57V1057.2h-2.57zM954.34 680.6h2.57V1057.2h-2.57zM957.41 683.0h2.57V1058.7h-2.57zM960.48 680.0h2.57V1058.7h-2.57zM963.56 680.0h2.57V1058.7h-2.57zM966.63 680.0h2.57V1058.7h-2.57zM969.70 680.0h2.57V1058.7h-2.57zM972.78 680.0h2.57V1058.7h-2.57zM975.85 680.0h2.57V1058.7h-2.57zM978.92 677.7h2.57V1058.7h-2.57zM982.00 677.7h2.57V1058.7h-2.57zM985.07 671.7h2.57V1054.4h-2.57zM988.14 671.7h2.57V1054.4h-2.57zM991.22 671.7h2.57V1054.4h-2.57zM994.29 671.7h2.57V1054.4h-2.57zM997.37 667.6h2.57V1054.4h-2.57zM1000.44 680.0h2.57V1061.5h-2.57zM1003.51 680.0h2.57V1061.5h-2.57zM1006.59 680.0h2.57V1061.5h-2.57zM1009.66 680.0h2.57V1061.5h-2.57zM1012.73 680.0h2.57V1061.5h-2.57zM1015.81 680.0h2.57V1061.5h-2.57zM1018.88 677.0h2.57V1058.6h-2.57zM1021.95 672.9h2.57V1055.6h-2.57zM1025.03 672.9h2.57V1055.6h-2.57zM1028.10 672.9h2.57V1054.2h-2.57zM1031.17 670.0h2.57V1054.2h-2.57zM1034.25 670.0h2.57V1054.2h-2.57zM1037.32 670.0h2.57V1054.2h-2.57zM1040.39 670.0h2.57V1054.2h-2.57zM1043.47 668.2h2.57V1054.2h-2.57zM1046.54 668.2h2.57V1054.2h-2.57zM1049.61 668.2h2.57V1054.2h-2.57zM1052.69 668.2h2.57V1054.2h-2.57zM1055.76 668.2h2.57V1054.2h-2.57zM1058.84 670.6h2.57V1054.2h-2.57zM1061.91 674.1h2.57V1054.2h-2.57zM1064.98 687.7h2.57V1054.2h-2.57zM1068.06 622.7h2.57V1011.3h-2.57zM1071.13 596.7h2.57V1003.0h-2.57zM1074.20 583.6h2.57V999.5h-2.57zM1077.28 583.6h2.57V998.3h-2.57z"/>
<path fill="#20ea9b" d="M597.81 1080.2h2.57V1086.0h-2.57zM600.88 1080.2h2.57V1086.0h-2.57zM603.96 1080.2h2.57V1086.0h-2.57zM607.03 1080.2h2.57V1086.0h-2.57zM610.10 1080.2h2.57V1086.0h-2.57zM613.18 1080.2h2.57V1086.0h-2.57zM616.25 1080.2h2.57V1086.0h-2.57zM619.32 1074.3h2.57V1086.0h-2.57zM622.40 1074.3h2.57V1086.0h-2.57zM625.47 1074.3h2.57V1086.0h-2.57zM628.55 1074.3h2.57V1086.0h-2.57zM631.62 1074.3h2.57V1086.0h-2.57zM634.69 1074.3h2.57V1086.0h-2.57zM637.77 1074.3h2.57V1086.0h-2.57zM640.84 1074.3h2.57V1086.0h-2.57zM643.91 1053.6h2.57V1086.0h-2.57zM646.99 1049.9h2.57V1086.0h-2.57zM650.06 1048.5h2.57V1086.0h-2.57zM653.13 1048.5h2.57V1086.0h-2.57zM656.21 1048.5h2.57V1086.0h-2.57zM659.28 1048.5h2.57V1086.0h-2.57zM662.35 1048.5h2.57V1086.0h-2.57zM665.43 1048.5h2.57V1086.0h-2.57zM668.50 1049.9h2.57V1086.0h-2.57zM671.57 1049.9h2.57V1086.0h-2.57zM674.65 1049.9h2.57V1086.0h-2.57zM677.72 1049.9h2.57V1086.0h-2.57zM680.79 1049.9h2.57V1086.0h-2.57zM683.87 1049.9h2.57V1086.0h-2.57zM686.94 1049.9h2.57V1086.0h-2.57zM690.02 1049.9h2.57V1086.0h-2.57zM693.09 1049.9h2.57V1086.0h-2.57zM696.16 1049.9h2.57V1086.0h-2.57zM699.24 1051.9h2.57V1086.0h-2.57zM702.31 1051.9h2.57V1086.0h-2.57zM705.38 1051.9h2.57V1086.0h-2.57zM708.46 1051.9h2.57V1086.0h-2.57zM711.53 1050.7h2.57V1086.0h-2.57zM714.60 1050.7h2.57V1086.0h-2.57zM717.68 1050.7h2.57V1086.0h-2.57zM720.75 1050.7h2.57V1086.0h-2.57zM723.82 1050.7h2.57V1086.0h-2.57zM726.90 1050.7h2.57V1086.0h-2.57zM729.97 1050.7h2.57V1086.0h-2.57zM733.04 1050.7h2.57V1086.0h-2.57zM736.12 1050.7h2.57V1086.0h-2.57zM739.19 1050.7h2.57V1086.0h-2.57zM742.26 1050.7h2.57V1086.0h-2.57zM745.34 1050.7h2.57V1086.0h-2.57zM748.41 1050.7h2.57V1086.0h-2.57zM751.49 1050.7h2.57V1086.0h-2.57zM754.56 1050.7h2.57V1086.0h-2.57zM757.63 1050.7h2.57V1086.0h-2.57zM760.71 1050.7h2.57V1086.0h-2.57zM763.78 1050.7h2.57V1086.0h-2.57zM766.85 1050.7h2.57V1086.0h-2.57zM769.93 1050.7h2.57V1086.0h-2.57zM773.00 1050.7h2.57V1086.0h-2.57zM776.07 1050.7h2.57V1086.0h-2.57zM779.15 1050.7h2.57V1086.0h-2.57zM782.22 1050.7h2.57V1086.0h-2.57zM785.29 1050.7h2.57V1086.0h-2.57zM788.37 1050.7h2.57V1086.0h-2.57zM791.44 1050.7h2.57V1086.0h-2.57zM794.51 1050.7h2.57V1086.0h-2.57zM797.59 1050.7h2.57V1086.0h-2.57zM800.66 1050.7h2.57V1086.0h-2.57zM803.73 1050.7h2.57V1086.0h-2.57zM806.81 1050.7h2.57V1086.0h-2.57zM809.88 1050.7h2.57V1086.0h-2.57zM812.96 1050.7h2.57V1086.0h-2.57zM816.03 1050.7h2.57V1086.0h-2.57zM819.10 1050.7h2.57V1086.0h-2.57zM822.18 1050.7h2.57V1086.0h-2.57zM825.25 1050.7h2.57V1086.0h-2.57zM828.32 1050.7h2.57V1086.0h-2.57zM831.40 1050.7h2.57V1086.0h-2.57zM834.47 1050.7h2.57V1086.0h-2.57zM837.54 1050.7h2.57V1086.0h-2.57zM840.62 1050.7h2.57V1086.0h-2.57zM843.69 1050.7h2.57V1086.0h-2.57zM846.76 1050.7h2.57V1086.0h-2.57zM849.84 1050.7h2.57V1086.0h-2.57zM852.91 1050.7h2.57V1086.0h-2.57zM855.98 1050.7h2.57V1086.0h-2.57zM859.06 1050.7h2.57V1086.0h-2.57zM862.13 1050.7h2.57V1086.0h-2.57zM865.20 1050.7h2.57V1086.0h-2.57zM868.28 1050.7h2.57V1086.0h-2.57zM871.35 1050.7h2.57V1086.0h-2.57zM874.43 1050.7h2.57V1086.0h-2.57zM877.50 1050.7h2.57V1086.0h-2.57zM880.57 1050.7h2.57V1086.0h-2.57zM883.65 1050.7h2.57V1086.0h-2.57zM886.72 1061.0h2.57V1086.0h-2.57zM889.79 1061.0h2.57V1086.0h-2.57zM892.87 1061.0h2.57V1086.0h-2.57zM895.94 1061.0h2.57V1086.0h-2.57zM899.01 1061.0h2.57V1086.0h-2.57zM902.09 1061.0h2.57V1086.0h-2.57zM905.16 1061.0h2.57V1086.0h-2.57zM908.23 1061.0h2.57V1086.0h-2.57zM911.31 1061.0h2.57V1086.0h-2.57zM914.38 1061.0h2.57V1086.0h-2.57zM917.45 1061.0h2.57V1086.0h-2.57zM920.53 1057.2h2.57V1086.0h-2.57zM923.60 1057.2h2.57V1086.0h-2.57zM926.67 1057.2h2.57V1086.0h-2.57zM929.75 1057.2h2.57V1086.0h-2.57zM932.82 1057.2h2.57V1086.0h-2.57zM935.90 1057.2h2.57V1086.0h-2.57zM938.97 1057.2h2.57V1086.0h-2.57zM942.04 1057.2h2.57V1086.0h-2.57zM945.12 1057.2h2.57V1086.0h-2.57zM948.19 1057.2h2.57V1086.0h-2.57zM951.26 1057.2h2.57V1086.0h-2.57zM954.34 1057.2h2.57V1086.0h-2.57zM957.41 1058.7h2.57V1086.0h-2.57zM960.48 1058.7h2.57V1086.0h-2.57zM963.56 1058.7h2.57V1086.0h-2.57zM966.63 1058.7h2.57V1086.0h-2.57zM969.70 1058.7h2.57V1086.0h-2.57zM972.78 1058.7h2.57V1086.0h-2.57zM975.85 1058.7h2.57V1086.0h-2.57zM978.92 1058.7h2.57V1086.0h-2.57zM982.00 1058.7h2.57V1086.0h-2.57zM985.07 1054.4h2.57V1086.0h-2.57zM988.14 1054.4h2.57V1086.0h-2.57zM991.22 1054.4h2.57V1086.0h-2.57zM994.29 1054.4h2.57V1086.0h-2.57zM997.37 1054.4h2.57V1086.0h-2.57zM1000.44 1061.5h2.57V1086.0h-2.57zM1003.51 1061.5h2.57V1086.0h-2.57zM1006.59 1061.5h2.57V1086.0h-2.57zM1009.66 1061.5h2.57V1086.0h-2.57zM1012.73 1061.5h2.57V1086.0h-2.57zM1015.81 1061.5h2.57V1086.0h-2.57zM1018.88 1058.6h2.57V1086.0h-2.57zM1021.95 1055.6h2.57V1086.0h-2.57zM1025.03 1055.6h2.57V1086.0h-2.57zM1028.10 1054.2h2.57V1086.0h-2.57zM1031.17 1054.2h2.57V1086.0h-2.57zM1034.25 1054.2h2.57V1086.0h-2.57zM1037.32 1054.2h2.57V1086.0h-2.57zM1040.39 1054.2h2.57V1086.0h-2.57zM1043.47 1054.2h2.57V1086.0h-2.57zM1046.54 1054.2h2.57V1086.0h-2.57zM1049.61 1054.2h2.57V1086.0h-2.57zM1052.69 1054.2h2.57V1086.0h-2.57zM1055.76 1054.2h2.57V1086.0h-2.57zM1058.84 1054.2h2.57V1086.0h-2.57zM1061.91 1054.2h2.57V1086.0h-2.57zM1064.98 1054.2h2.57V1086.0h-2.57zM1068.06 1011.3h2.57V1086.0h-2.57zM1071.13 1003.0h2.57V1086.0h-2.57zM1074.20 999.5h2.57V1086.0h-2.57zM1077.28 998.3h2.57V1086.0h-2.57z"/>
  </g>
  <!-- axis line -->
  <rect x="124" y="1085.6" width="956" height="1.4" fill="#000"/>
  <rect x="124" y="1084.8" width="40" height="2.2" fill="#000"/>

  <!-- watermark -->
  <defs>
    <mask id="wm">
      <rect x="470" y="550" width="140" height="140" fill="#000"/>
      <circle cx="533.5" cy="615.7" r="51.5" fill="#fff"/>
      <polygon points="586,609.9 589,616.6 485,655.5 485,650" fill="#000"/>
    </mask>
  </defs>
  <g fill="#000" fill-opacity="0.085">
    <rect x="470" y="550" width="140" height="140" mask="url(#wm)"/>
    <g font-family="Liberation Sans, sans-serif" font-weight="bold" font-size="100">
      <text transform="translate(642.4,654.2) scale(0.897,1.103)">D</text>
      <text transform="translate(705.5,654.2) scale(0.972,1.103)">u</text>
      <text transform="translate(761.9,654.2) scale(0.972,1.103)">n</text>
      <text transform="translate(826.1,654.2) scale(1.057,1.103)">e</text>
    </g>
  </g>

  <!-- y labels -->
  <g class="ax" text-anchor="end">
    <text x="109" y="292">4b</text>
    <text x="109" y="491.7">3b</text>
    <text x="109" y="691.3">2b</text>
    <text x="109" y="891">1b</text>
    <text x="108.6" y="1090.8">0</text>
  </g>
  <!-- x labels -->
  <g class="ax" text-anchor="middle">
    <text x="126.1" y="1121.2">Mar 2025</text>
    <text x="363.7" y="1121.2">May 2025</text>
    <text x="601.9" y="1121.2">Aug 2025</text>
    <text x="840.3" y="1121.2">Nov 2025</text>
    <text x="1078.6" y="1121.2">Jan 2026</text>
  </g>
  <!-- y title -->
  <text transform="translate(42,596) rotate(-90)" text-anchor="middle" font-family="Liberation Sans, sans-serif" font-size="23.5" fill="#161616" stroke="#161616" stroke-width="0.25" style="letter-spacing:0.5px">cbBTC</text>

  <!-- legend -->
  <g class="lg" text-anchor="end">
    <text x="1316.3" y="506.6">All</text>
    <text x="1316" y="545.6">Tron</text>
    <text x="1316.6" y="584.6" style="letter-spacing:0.7px">Ethereum</text>
    <text x="1315.5" y="623.6">BSC</text>
    <text x="1315.8" y="662.6" style="letter-spacing:0.45px">Solana</text>
  </g>
  <rect x="1326" y="489" width="18" height="18" rx="4.5" fill="#606064"/>
  <rect x="1326" y="528" width="18" height="18" rx="4.5" fill="#ee0030"/>
  <rect x="1326" y="567" width="18" height="18" rx="4.5" fill="#8fa9ee"/>
  <rect x="1326" y="606" width="18" height="18" rx="4.5" fill="#f0b93a"/>
  <rect x="1326" y="645" width="18" height="18" rx="4.5" fill="#1fe79a"/>

  <!-- avatar -->
  <circle cx="36.1" cy="1150" r="16" fill="#1c163a"/>
  <g fill="none" stroke="#68dccf" stroke-width="1.5" stroke-linejoin="round" stroke-linecap="butt">
    <path d="M32.4 1152H25.1L32.55 1138.5L38.6 1151.6"/>
    <path d="M39.5 1147.7H47L39.3 1161.5L33.2 1148.4"/>
  </g>

  <!-- verified badge -->
  <g fill="none" stroke="#1a8c5f" stroke-linejoin="round" stroke-linecap="round">
    <path stroke-width="1.9" d="M1311.69 1139.74L1314.22 1137.79Q1315.90 1136.50 1317.58 1137.79L1320.11 1139.74L1323.27 1140.15Q1325.38 1140.42 1325.65 1142.53L1326.06 1145.69L1328.01 1148.22Q1329.30 1149.90 1328.01 1151.58L1326.06 1154.11L1325.65 1157.27Q1325.38 1159.38 1323.27 1159.65L1320.11 1160.06L1317.58 1162.01Q1315.90 1163.30 1314.22 1162.01L1311.69 1160.06L1308.53 1159.65Q1306.42 1159.38 1306.15 1157.27L1305.74 1154.11L1303.79 1151.58Q1302.50 1149.90 1303.79 1148.22L1305.74 1145.69L1306.15 1142.53Q1306.42 1140.42 1308.53 1140.15L1311.69 1139.74Z"/>
    <path stroke-width="2" d="M1310.7 1150.9L1314.2 1154L1321 1147.3"/>
  </g>
</svg>

<div class="abs" id="age">3h</div>
<div class="abs" id="user">@seoul</div>
</body>
</html>
